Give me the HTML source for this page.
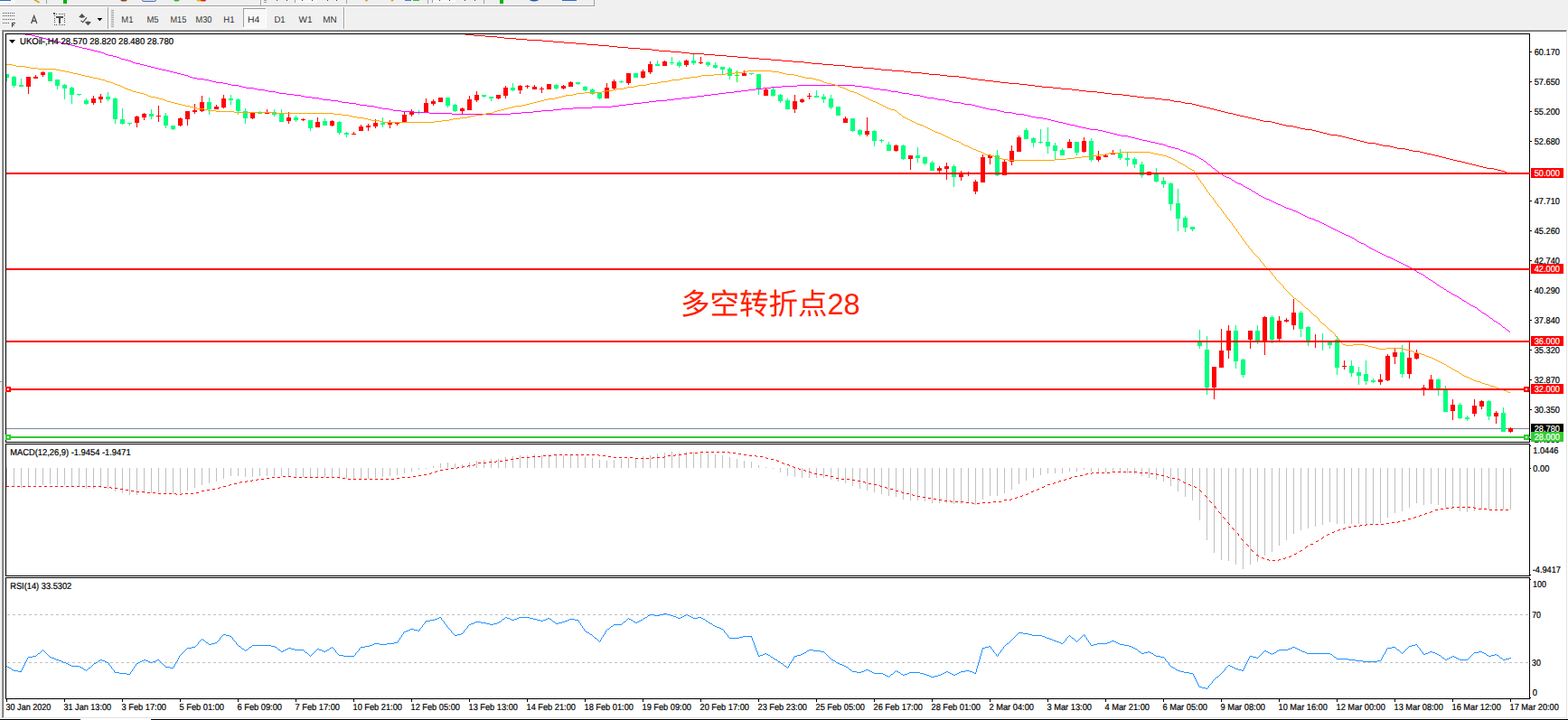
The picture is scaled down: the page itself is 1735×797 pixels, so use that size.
<!DOCTYPE html>
<html><head><meta charset="utf-8"><title>UKOil H4</title>
<style>html,body{margin:0;padding:0;background:#f0f0f0;overflow:hidden}svg{display:block}text{font-family:"Liberation Sans",sans-serif;text-rendering:geometricPrecision}</style>
</head><body>
<svg width="1735" height="797" viewBox="0 0 1735 797">
<rect x="0" y="0" width="1735" height="797" fill="#f0f0f0" />
<g shape-rendering="crispEdges">
<rect x="0" y="6" width="657" height="1" fill="#a0a0a0"/>
<rect x="0" y="7" width="658" height="1" fill="#fafafa"/>
<rect x="657" y="0" width="1" height="7" fill="#a0a0a0"/>
<rect x="0" y="0" width="17" height="4" fill="#f8f8f8"/>
<rect x="0" y="0" width="12" height="1" fill="#2a6cd0"/>
<rect x="51" y="0" width="1" height="4" fill="#a0a0a0"/>
<rect x="70" y="0" width="4" height="4" fill="#00b400"/>
<rect x="288" y="0" width="1" height="6" fill="#a0a0a0"/>
<rect x="289" y="0" width="1" height="6" fill="#fff"/>
<rect x="292" y="0" width="3" height="1" fill="#a0a0a0"/>
<rect x="292" y="2" width="3" height="1" fill="#a0a0a0"/>
<rect x="306" y="0" width="1" height="1" fill="#404040"/>
<rect x="317" y="0" width="1" height="1" fill="#404040"/>
<rect x="326" y="0" width="25" height="3" fill="#f8f8f8"/>
<rect x="326" y="0" width="1" height="3" fill="#a0a0a0"/>
<rect x="334" y="0" width="1" height="1" fill="#404040"/>
<rect x="345" y="0" width="1" height="1" fill="#404040"/>
<rect x="362" y="0" width="1" height="1" fill="#404040"/>
<rect x="372" y="0" width="1" height="1" fill="#404040"/>
<rect x="383" y="0" width="1" height="4" fill="#a0a0a0"/>
<rect x="448" y="0" width="7" height="1" fill="#3c78dc"/>
<rect x="457" y="0" width="7" height="1" fill="#3cb43c"/>
<rect x="473" y="0" width="1" height="4" fill="#a0a0a0"/>
<rect x="478" y="0" width="26" height="3" fill="#f8f8f8"/>
<rect x="478" y="0" width="1" height="3" fill="#a0a0a0"/>
<rect x="486" y="0" width="1" height="1" fill="#404040"/>
<rect x="497" y="0" width="1" height="1" fill="#404040"/>
<rect x="514" y="0" width="1" height="1" fill="#404040"/>
<rect x="525" y="0" width="1" height="1" fill="#404040"/>
<rect x="535" y="0" width="1" height="4" fill="#a0a0a0"/>
<rect x="553" y="0" width="4" height="4" fill="#00b400"/>
<rect x="622" y="0" width="16" height="1" fill="#2a6cd0"/>
</g>
<path d="M37 0 L43 3.5 L44 2 L40 0z" fill="#d4a017"/>
<ellipse cx="137" cy="0" rx="3.5" ry="1.5" fill="#8b4513"/>
<rect x="157.5" y="-2" width="15" height="3.5" rx="1.5" fill="#dfe6f5" stroke="#4a6cb4" stroke-width="1"/>
<ellipse cx="195.5" cy="0" rx="3" ry="1.5" fill="#2eb42e"/>
<ellipse cx="220.5" cy="0" rx="3" ry="1.5" fill="#e6b800"/><ellipse cx="225" cy="0" rx="3" ry="1.5" fill="#e02010"/>
<ellipse cx="405.5" cy="0" rx="1.5" ry="1.6" fill="#d4a017"/><ellipse cx="434" cy="0" rx="1.5" ry="1.6" fill="#d4a017"/>
<ellipse cx="591" cy="-1" rx="5.5" ry="2.4" fill="#1c55a8"/>
<g shape-rendering="crispEdges">
<rect x="3" y="14" width="1" height="1" fill="#505050"/>
<rect x="5" y="14" width="1" height="1" fill="#505050"/>
<rect x="7" y="14" width="1" height="1" fill="#505050"/>
<rect x="9" y="14" width="1" height="1" fill="#505050"/>
<rect x="11" y="14" width="1" height="1" fill="#505050"/>
<rect x="13" y="14" width="1" height="1" fill="#505050"/>
<rect x="15" y="14" width="1" height="1" fill="#505050"/>
<rect x="3" y="17" width="1" height="1" fill="#505050"/>
<rect x="5" y="17" width="1" height="1" fill="#505050"/>
<rect x="7" y="17" width="1" height="1" fill="#505050"/>
<rect x="9" y="17" width="1" height="1" fill="#505050"/>
<rect x="11" y="17" width="1" height="1" fill="#505050"/>
<rect x="13" y="17" width="1" height="1" fill="#505050"/>
<rect x="15" y="17" width="1" height="1" fill="#505050"/>
<rect x="3" y="21" width="1" height="1" fill="#505050"/>
<rect x="5" y="21" width="1" height="1" fill="#505050"/>
<rect x="7" y="21" width="1" height="1" fill="#505050"/>
<rect x="9" y="21" width="1" height="1" fill="#505050"/>
<rect x="11" y="21" width="1" height="1" fill="#505050"/>
<rect x="13" y="21" width="1" height="1" fill="#505050"/>
<rect x="15" y="21" width="1" height="1" fill="#505050"/>
<rect x="3" y="25" width="1" height="1" fill="#505050"/>
<rect x="5" y="25" width="1" height="1" fill="#505050"/>
<rect x="7" y="25" width="1" height="1" fill="#505050"/>
<rect x="9" y="25" width="1" height="1" fill="#505050"/>
<rect x="13" y="25" width="4" height="1" fill="#404040"/>
<rect x="13" y="25" width="1" height="5" fill="#404040"/>
<rect x="13" y="27" width="3" height="1" fill="#404040"/>
<rect x="13.5" y="25" width="0.5" height="5" fill="#404040"/>
<rect x="60" y="15" width="1" height="1" fill="#505050"/>
<rect x="60" y="27" width="1" height="1" fill="#505050"/>
<rect x="62" y="15" width="1" height="1" fill="#505050"/>
<rect x="62" y="27" width="1" height="1" fill="#505050"/>
<rect x="65" y="15" width="1" height="1" fill="#505050"/>
<rect x="65" y="27" width="1" height="1" fill="#505050"/>
<rect x="67" y="15" width="1" height="1" fill="#505050"/>
<rect x="67" y="27" width="1" height="1" fill="#505050"/>
<rect x="69" y="15" width="1" height="1" fill="#505050"/>
<rect x="69" y="27" width="1" height="1" fill="#505050"/>
<rect x="71" y="15" width="1" height="1" fill="#505050"/>
<rect x="71" y="27" width="1" height="1" fill="#505050"/>
<rect x="60" y="15" width="1" height="1" fill="#505050"/>
<rect x="71" y="15" width="1" height="1" fill="#505050"/>
<rect x="60" y="17" width="1" height="1" fill="#505050"/>
<rect x="71" y="17" width="1" height="1" fill="#505050"/>
<rect x="60" y="20" width="1" height="1" fill="#505050"/>
<rect x="71" y="20" width="1" height="1" fill="#505050"/>
<rect x="60" y="22" width="1" height="1" fill="#505050"/>
<rect x="71" y="22" width="1" height="1" fill="#505050"/>
<rect x="60" y="24" width="1" height="1" fill="#505050"/>
<rect x="71" y="24" width="1" height="1" fill="#505050"/>
<rect x="60" y="27" width="1" height="1" fill="#505050"/>
<rect x="71" y="27" width="1" height="1" fill="#505050"/>
<rect x="59" y="14" width="2" height="2" fill="#505050"/>
<rect x="62" y="18" width="8" height="2" fill="#505050"/>
<rect x="65" y="18" width="2" height="8" fill="#505050"/>
<rect x="119" y="8" width="1" height="25" fill="#a0a0a0"/>
<rect x="120" y="8" width="1" height="25" fill="#fff"/>
<rect x="123" y="11" width="3" height="1" fill="#a0a0a0"/>
<rect x="123" y="13" width="3" height="1" fill="#a0a0a0"/>
<rect x="123" y="15" width="3" height="1" fill="#a0a0a0"/>
<rect x="123" y="17" width="3" height="1" fill="#a0a0a0"/>
<rect x="123" y="19" width="3" height="1" fill="#a0a0a0"/>
<rect x="123" y="21" width="3" height="1" fill="#a0a0a0"/>
<rect x="123" y="23" width="3" height="1" fill="#a0a0a0"/>
<rect x="123" y="25" width="3" height="1" fill="#a0a0a0"/>
<rect x="123" y="27" width="3" height="1" fill="#a0a0a0"/>
<rect x="123" y="29" width="3" height="1" fill="#a0a0a0"/>
<rect x="380" y="8" width="1" height="25" fill="#a0a0a0"/>
<rect x="381" y="8" width="1" height="25" fill="#fff"/>
<rect x="269" y="9" width="26" height="22" fill="#f8f8f8"/>
<rect x="269" y="9" width="26" height="1" fill="#a0a0a0"/>
<rect x="269" y="9" width="1" height="22" fill="#a0a0a0"/>
<rect x="294" y="9" width="1" height="22" fill="#fff"/>
<rect x="269" y="30" width="26" height="1" fill="#fff"/>
</g>
<path d="M34.6 26 L37.7 17.6 L40.8 26 M35.7 23.2 H39.7" fill="none" stroke="#505050" stroke-width="1.35" stroke-linejoin="miter"/>
<path d="M90.7 15 L94.2 18.8 L90.7 20 L87.2 18.8z" fill="#505050"/>
<path d="M97.4 28.2 L100.9 24.4 L97.4 23.4 L93.9 24.4z" fill="#505050"/>
<path d="M89.5 22.8 L91.7 24.6 L96 19.4" fill="none" stroke="#505050" stroke-width="1.2"/>
<path d="M107.5 20 h5.8 l-2.9 3.3z" fill="#000"/>
<text x="134.3" y="24.9" font-size="10" fill="#303030" textLength="13.1" lengthAdjust="spacingAndGlyphs">M1</text>
<text x="162.5" y="24.9" font-size="10" fill="#303030" textLength="13.1" lengthAdjust="spacingAndGlyphs">M5</text>
<text x="188.5" y="24.9" font-size="10" fill="#303030" textLength="17.8" lengthAdjust="spacingAndGlyphs">M15</text>
<text x="216.5" y="24.9" font-size="10" fill="#303030" textLength="17.9" lengthAdjust="spacingAndGlyphs">M30</text>
<text x="247.3" y="24.9" font-size="10" fill="#303030" textLength="12.2" lengthAdjust="spacingAndGlyphs">H1</text>
<text x="274" y="24.9" font-size="10" fill="#303030" textLength="13.2" lengthAdjust="spacingAndGlyphs">H4</text>
<text x="303.4" y="24.9" font-size="10" fill="#303030" textLength="12.1" lengthAdjust="spacingAndGlyphs">D1</text>
<text x="330.6" y="24.9" font-size="10" fill="#303030" textLength="14.9" lengthAdjust="spacingAndGlyphs">W1</text>
<text x="357.3" y="24.9" font-size="10" fill="#303030" textLength="15.4" lengthAdjust="spacingAndGlyphs">MN</text>
<g shape-rendering="crispEdges">
<rect x="0" y="32" width="1735" height="1" fill="#f8f8f8" />
<rect x="0" y="34" width="1" height="388" fill="#f6f6f6" />
<rect x="1" y="34" width="1" height="388" fill="#fff" />
<rect x="0" y="422" width="2" height="1" fill="#a0a0a0" />
<rect x="2" y="33" width="1732" height="1" fill="#a0a0a0" />
<rect x="3" y="34" width="1730" height="1" fill="#696969" />
<rect x="2" y="33" width="1" height="762" fill="#a0a0a0" />
<rect x="3" y="34" width="1" height="761" fill="#696969" />
<rect x="4" y="35" width="1729" height="759" fill="#fff" />
<rect x="1733" y="35" width="1" height="760" fill="#e3e3e3" />
<rect x="1734" y="33" width="1" height="763" fill="#fff" />
<rect x="3" y="794" width="1731" height="1" fill="#e3e3e3" />
<rect x="0" y="795" width="1735" height="1" fill="#fff" />
<rect x="0" y="796" width="89" height="1" fill="#000" />
<rect x="167" y="796" width="1568" height="1" fill="#000" />
<rect x="89" y="796" width="78" height="1" fill="#fff" />
</g>
<clipPath id="cm"><rect x="7" y="38" width="1685" height="451"/></clipPath>
<g clip-path="url(#cm)" shape-rendering="crispEdges">
<rect x="7" y="474" width="1685" height="1" fill="#778899" />
<rect x="7" y="82" width="1" height="8" fill="#00ff7f" />
<rect x="5" y="82" width="5" height="4" fill="#00ff7f" />
<rect x="15" y="84" width="1" height="13" fill="#00ff7f" />
<rect x="13" y="85" width="5" height="10" fill="#00ff7f" />
<rect x="23" y="87" width="1" height="9" fill="#00ff7f" />
<rect x="21" y="94" width="5" height="2" fill="#00ff7f" />
<rect x="31" y="85" width="1" height="19" fill="#ff0000" />
<rect x="29" y="85" width="5" height="11" fill="#ff0000" />
<rect x="39" y="83" width="1" height="4" fill="#ff0000" />
<rect x="37" y="85" width="5" height="2" fill="#ff0000" />
<rect x="47" y="79" width="1" height="6" fill="#ff0000" />
<rect x="45" y="80" width="5" height="3" fill="#ff0000" />
<rect x="55" y="80" width="1" height="10" fill="#00ff7f" />
<rect x="53" y="80" width="5" height="10" fill="#00ff7f" />
<rect x="63" y="88" width="1" height="11" fill="#00ff7f" />
<rect x="61" y="88" width="5" height="7" fill="#00ff7f" />
<rect x="71" y="93" width="1" height="17" fill="#00ff7f" />
<rect x="69" y="94" width="5" height="4" fill="#00ff7f" />
<rect x="79" y="96" width="1" height="19" fill="#00ff7f" />
<rect x="77" y="97" width="5" height="8" fill="#00ff7f" />
<rect x="87" y="104" width="1" height="2" fill="#00ff7f" />
<rect x="85" y="104" width="5" height="1" fill="#00ff7f" />
<rect x="95" y="109" width="1" height="7" fill="#00ff7f" />
<rect x="93" y="111" width="5" height="4" fill="#00ff7f" />
<rect x="103" y="106" width="1" height="10" fill="#ff0000" />
<rect x="101" y="109" width="5" height="5" fill="#ff0000" />
<rect x="111" y="104" width="1" height="10" fill="#ff0000" />
<rect x="109" y="107" width="5" height="3" fill="#ff0000" />
<rect x="119" y="102" width="1" height="10" fill="#00ff7f" />
<rect x="117" y="107" width="5" height="3" fill="#00ff7f" />
<rect x="127" y="108" width="1" height="29" fill="#00ff7f" />
<rect x="125" y="109" width="5" height="23" fill="#00ff7f" />
<rect x="135" y="120" width="1" height="18" fill="#00ff7f" />
<rect x="133" y="132" width="5" height="5" fill="#00ff7f" />
<rect x="143" y="136" width="1" height="3" fill="#00ff7f" />
<rect x="141" y="136" width="5" height="1" fill="#00ff7f" />
<rect x="151" y="128" width="1" height="13" fill="#ff0000" />
<rect x="149" y="129" width="5" height="7" fill="#ff0000" />
<rect x="159" y="125" width="1" height="8" fill="#ff0000" />
<rect x="157" y="126" width="5" height="4" fill="#ff0000" />
<rect x="167" y="121" width="1" height="11" fill="#00ff7f" />
<rect x="165" y="126" width="5" height="3" fill="#00ff7f" />
<rect x="175" y="117" width="1" height="18" fill="#ff0000" />
<rect x="173" y="128" width="5" height="1" fill="#ff0000" />
<rect x="183" y="125" width="1" height="17" fill="#00ff7f" />
<rect x="181" y="128" width="5" height="11" fill="#00ff7f" />
<rect x="191" y="139" width="1" height="5" fill="#00ff7f" />
<rect x="189" y="139" width="5" height="4" fill="#00ff7f" />
<rect x="199" y="130" width="1" height="10" fill="#ff0000" />
<rect x="197" y="131" width="5" height="8" fill="#ff0000" />
<rect x="207" y="123" width="1" height="16" fill="#ff0000" />
<rect x="205" y="123" width="5" height="9" fill="#ff0000" />
<rect x="215" y="115" width="1" height="11" fill="#ff0000" />
<rect x="213" y="122" width="5" height="2" fill="#ff0000" />
<rect x="223" y="106" width="1" height="18" fill="#ff0000" />
<rect x="221" y="113" width="5" height="10" fill="#ff0000" />
<rect x="231" y="108" width="1" height="19" fill="#00ff7f" />
<rect x="229" y="113" width="5" height="8" fill="#00ff7f" />
<rect x="239" y="116" width="1" height="5" fill="#ff0000" />
<rect x="237" y="118" width="5" height="3" fill="#ff0000" />
<rect x="247" y="105" width="1" height="15" fill="#ff0000" />
<rect x="245" y="109" width="5" height="10" fill="#ff0000" />
<rect x="255" y="105" width="1" height="11" fill="#00ff7f" />
<rect x="253" y="109" width="5" height="2" fill="#00ff7f" />
<rect x="263" y="109" width="1" height="18" fill="#00ff7f" />
<rect x="261" y="110" width="5" height="13" fill="#00ff7f" />
<rect x="271" y="120" width="1" height="17" fill="#00ff7f" />
<rect x="269" y="123" width="5" height="8" fill="#00ff7f" />
<rect x="279" y="124" width="1" height="8" fill="#ff0000" />
<rect x="277" y="124" width="5" height="7" fill="#ff0000" />
<rect x="287" y="123" width="1" height="3" fill="#00ff7f" />
<rect x="285" y="125" width="5" height="1" fill="#00ff7f" />
<rect x="295" y="121" width="1" height="5" fill="#ff0000" />
<rect x="293" y="124" width="5" height="2" fill="#ff0000" />
<rect x="303" y="121" width="1" height="8" fill="#00ff7f" />
<rect x="301" y="124" width="5" height="3" fill="#00ff7f" />
<rect x="311" y="121" width="1" height="14" fill="#00ff7f" />
<rect x="309" y="126" width="5" height="9" fill="#00ff7f" />
<rect x="319" y="124" width="1" height="13" fill="#ff0000" />
<rect x="317" y="130" width="5" height="4" fill="#ff0000" />
<rect x="327" y="128" width="1" height="7" fill="#00ff7f" />
<rect x="325" y="130" width="5" height="3" fill="#00ff7f" />
<rect x="335" y="131" width="1" height="3" fill="#ff0000" />
<rect x="333" y="132" width="5" height="1" fill="#ff0000" />
<rect x="343" y="133" width="1" height="12" fill="#00ff7f" />
<rect x="341" y="133" width="5" height="9" fill="#00ff7f" />
<rect x="351" y="130" width="1" height="11" fill="#ff0000" />
<rect x="349" y="135" width="5" height="6" fill="#ff0000" />
<rect x="359" y="131" width="1" height="8" fill="#00ff7f" />
<rect x="357" y="134" width="5" height="5" fill="#00ff7f" />
<rect x="367" y="133" width="1" height="7" fill="#ff0000" />
<rect x="365" y="134" width="5" height="5" fill="#ff0000" />
<rect x="375" y="134" width="1" height="15" fill="#00ff7f" />
<rect x="373" y="135" width="5" height="12" fill="#00ff7f" />
<rect x="383" y="146" width="1" height="6" fill="#00ff7f" />
<rect x="381" y="147" width="5" height="2" fill="#00ff7f" />
<rect x="391" y="146" width="1" height="3" fill="#ff0000" />
<rect x="389" y="148" width="5" height="1" fill="#ff0000" />
<rect x="399" y="138" width="1" height="7" fill="#ff0000" />
<rect x="397" y="140" width="5" height="5" fill="#ff0000" />
<rect x="407" y="137" width="1" height="8" fill="#ff0000" />
<rect x="405" y="139" width="5" height="2" fill="#ff0000" />
<rect x="415" y="132" width="1" height="10" fill="#ff0000" />
<rect x="413" y="136" width="5" height="4" fill="#ff0000" />
<rect x="423" y="130" width="1" height="11" fill="#00ff7f" />
<rect x="421" y="136" width="5" height="2" fill="#00ff7f" />
<rect x="431" y="133" width="1" height="9" fill="#ff0000" />
<rect x="429" y="136" width="5" height="2" fill="#ff0000" />
<rect x="439" y="136" width="1" height="3" fill="#ff0000" />
<rect x="437" y="136" width="5" height="1" fill="#ff0000" />
<rect x="447" y="124" width="1" height="11" fill="#ff0000" />
<rect x="445" y="127" width="5" height="8" fill="#ff0000" />
<rect x="455" y="121" width="1" height="8" fill="#ff0000" />
<rect x="453" y="123" width="5" height="4" fill="#ff0000" />
<rect x="463" y="122" width="1" height="5" fill="#00ff7f" />
<rect x="461" y="124" width="5" height="1" fill="#00ff7f" />
<rect x="471" y="109" width="1" height="15" fill="#ff0000" />
<rect x="469" y="114" width="5" height="10" fill="#ff0000" />
<rect x="479" y="110" width="1" height="7" fill="#ff0000" />
<rect x="477" y="112" width="5" height="3" fill="#ff0000" />
<rect x="487" y="108" width="1" height="5" fill="#ff0000" />
<rect x="485" y="108" width="5" height="5" fill="#ff0000" />
<rect x="495" y="108" width="1" height="11" fill="#00ff7f" />
<rect x="493" y="108" width="5" height="9" fill="#00ff7f" />
<rect x="503" y="115" width="1" height="9" fill="#00ff7f" />
<rect x="501" y="116" width="5" height="7" fill="#00ff7f" />
<rect x="511" y="119" width="1" height="7" fill="#ff0000" />
<rect x="509" y="120" width="5" height="3" fill="#ff0000" />
<rect x="519" y="106" width="1" height="16" fill="#ff0000" />
<rect x="517" y="110" width="5" height="12" fill="#ff0000" />
<rect x="527" y="101" width="1" height="12" fill="#ff0000" />
<rect x="525" y="105" width="5" height="6" fill="#ff0000" />
<rect x="535" y="105" width="1" height="3" fill="#00ff7f" />
<rect x="533" y="105" width="5" height="2" fill="#00ff7f" />
<rect x="543" y="107" width="1" height="5" fill="#00ff7f" />
<rect x="541" y="107" width="5" height="2" fill="#00ff7f" />
<rect x="551" y="105" width="1" height="5" fill="#ff0000" />
<rect x="549" y="105" width="5" height="4" fill="#ff0000" />
<rect x="559" y="95" width="1" height="14" fill="#ff0000" />
<rect x="557" y="97" width="5" height="9" fill="#ff0000" />
<rect x="567" y="92" width="1" height="9" fill="#00ff7f" />
<rect x="565" y="97" width="5" height="3" fill="#00ff7f" />
<rect x="575" y="94" width="1" height="10" fill="#ff0000" />
<rect x="573" y="95" width="5" height="5" fill="#ff0000" />
<rect x="583" y="94" width="1" height="4" fill="#ff0000" />
<rect x="581" y="95" width="5" height="1" fill="#ff0000" />
<rect x="591" y="94" width="1" height="5" fill="#ff0000" />
<rect x="589" y="96" width="5" height="3" fill="#ff0000" />
<rect x="599" y="96" width="1" height="7" fill="#ff0000" />
<rect x="597" y="98" width="5" height="1" fill="#ff0000" />
<rect x="607" y="93" width="1" height="6" fill="#ff0000" />
<rect x="605" y="93" width="5" height="6" fill="#ff0000" />
<rect x="615" y="93" width="1" height="6" fill="#00ff7f" />
<rect x="613" y="94" width="5" height="4" fill="#00ff7f" />
<rect x="623" y="94" width="1" height="5" fill="#ff0000" />
<rect x="621" y="95" width="5" height="3" fill="#ff0000" />
<rect x="631" y="90" width="1" height="6" fill="#ff0000" />
<rect x="629" y="91" width="5" height="5" fill="#ff0000" />
<rect x="639" y="91" width="1" height="3" fill="#00ff7f" />
<rect x="637" y="91" width="5" height="2" fill="#00ff7f" />
<rect x="647" y="95" width="1" height="6" fill="#00ff7f" />
<rect x="645" y="96" width="5" height="4" fill="#00ff7f" />
<rect x="655" y="98" width="1" height="7" fill="#00ff7f" />
<rect x="653" y="99" width="5" height="5" fill="#00ff7f" />
<rect x="663" y="102" width="1" height="8" fill="#00ff7f" />
<rect x="661" y="103" width="5" height="6" fill="#00ff7f" />
<rect x="671" y="92" width="1" height="17" fill="#ff0000" />
<rect x="669" y="97" width="5" height="12" fill="#ff0000" />
<rect x="679" y="88" width="1" height="11" fill="#ff0000" />
<rect x="677" y="90" width="5" height="8" fill="#ff0000" />
<rect x="687" y="89" width="1" height="3" fill="#00ff7f" />
<rect x="685" y="90" width="5" height="1" fill="#00ff7f" />
<rect x="695" y="81" width="1" height="13" fill="#ff0000" />
<rect x="693" y="81" width="5" height="11" fill="#ff0000" />
<rect x="703" y="81" width="1" height="5" fill="#00ff7f" />
<rect x="701" y="81" width="5" height="5" fill="#00ff7f" />
<rect x="711" y="77" width="1" height="10" fill="#ff0000" />
<rect x="709" y="79" width="5" height="7" fill="#ff0000" />
<rect x="719" y="68" width="1" height="14" fill="#ff0000" />
<rect x="717" y="71" width="5" height="9" fill="#ff0000" />
<rect x="727" y="67" width="1" height="6" fill="#00ff7f" />
<rect x="725" y="71" width="5" height="2" fill="#00ff7f" />
<rect x="735" y="67" width="1" height="6" fill="#ff0000" />
<rect x="733" y="68" width="5" height="5" fill="#ff0000" />
<rect x="743" y="63" width="1" height="9" fill="#00ff7f" />
<rect x="741" y="69" width="5" height="1" fill="#00ff7f" />
<rect x="751" y="67" width="1" height="8" fill="#00ff7f" />
<rect x="749" y="69" width="5" height="4" fill="#00ff7f" />
<rect x="759" y="66" width="1" height="8" fill="#ff0000" />
<rect x="757" y="67" width="5" height="5" fill="#ff0000" />
<rect x="767" y="60" width="1" height="12" fill="#00ff7f" />
<rect x="765" y="67" width="5" height="3" fill="#00ff7f" />
<rect x="775" y="63" width="1" height="8" fill="#ff0000" />
<rect x="773" y="69" width="5" height="1" fill="#ff0000" />
<rect x="783" y="68" width="1" height="6" fill="#00ff7f" />
<rect x="781" y="69" width="5" height="3" fill="#00ff7f" />
<rect x="791" y="69" width="1" height="7" fill="#00ff7f" />
<rect x="789" y="72" width="5" height="3" fill="#00ff7f" />
<rect x="799" y="74" width="1" height="9" fill="#00ff7f" />
<rect x="797" y="74" width="5" height="3" fill="#00ff7f" />
<rect x="807" y="74" width="1" height="14" fill="#00ff7f" />
<rect x="805" y="76" width="5" height="8" fill="#00ff7f" />
<rect x="815" y="78" width="1" height="13" fill="#00ff00" />
<rect x="813" y="83" width="5" height="1" fill="#00ff00" />
<rect x="823" y="78" width="1" height="6" fill="#ff0000" />
<rect x="821" y="81" width="5" height="3" fill="#ff0000" />
<rect x="831" y="81" width="1" height="2" fill="#00ff7f" />
<rect x="829" y="81" width="5" height="1" fill="#00ff7f" />
<rect x="839" y="82" width="1" height="23" fill="#00ff7f" />
<rect x="837" y="82" width="5" height="17" fill="#00ff7f" />
<rect x="847" y="98" width="1" height="8" fill="#ff0000" />
<rect x="845" y="99" width="5" height="7" fill="#ff0000" />
<rect x="855" y="97" width="1" height="10" fill="#00ff7f" />
<rect x="853" y="99" width="5" height="7" fill="#00ff7f" />
<rect x="863" y="104" width="1" height="10" fill="#00ff7f" />
<rect x="861" y="105" width="5" height="7" fill="#00ff7f" />
<rect x="871" y="109" width="1" height="12" fill="#00ff7f" />
<rect x="869" y="111" width="5" height="10" fill="#00ff7f" />
<rect x="879" y="105" width="1" height="20" fill="#ff0000" />
<rect x="877" y="112" width="5" height="9" fill="#ff0000" />
<rect x="887" y="109" width="1" height="5" fill="#ff0000" />
<rect x="885" y="110" width="5" height="3" fill="#ff0000" />
<rect x="895" y="103" width="1" height="7" fill="#ff0000" />
<rect x="893" y="106" width="5" height="1" fill="#ff0000" />
<rect x="903" y="100" width="1" height="8" fill="#00ff7f" />
<rect x="901" y="106" width="5" height="2" fill="#00ff7f" />
<rect x="911" y="104" width="1" height="10" fill="#00ff7f" />
<rect x="909" y="107" width="5" height="3" fill="#00ff7f" />
<rect x="919" y="105" width="1" height="16" fill="#00ff7f" />
<rect x="917" y="109" width="5" height="10" fill="#00ff7f" />
<rect x="927" y="118" width="1" height="10" fill="#00ff7f" />
<rect x="925" y="118" width="5" height="10" fill="#00ff7f" />
<rect x="935" y="129" width="1" height="7" fill="#ff0000" />
<rect x="933" y="131" width="5" height="5" fill="#ff0000" />
<rect x="943" y="131" width="1" height="15" fill="#00ff7f" />
<rect x="941" y="131" width="5" height="14" fill="#00ff7f" />
<rect x="951" y="143" width="1" height="8" fill="#00ff7f" />
<rect x="949" y="144" width="5" height="5" fill="#00ff7f" />
<rect x="959" y="130" width="1" height="21" fill="#ff0000" />
<rect x="957" y="145" width="5" height="4" fill="#ff0000" />
<rect x="967" y="144" width="1" height="18" fill="#00ff7f" />
<rect x="965" y="145" width="5" height="11" fill="#00ff7f" />
<rect x="975" y="154" width="1" height="4" fill="#00ff7f" />
<rect x="973" y="155" width="5" height="1" fill="#00ff7f" />
<rect x="983" y="157" width="1" height="10" fill="#00ff7f" />
<rect x="981" y="160" width="5" height="7" fill="#00ff7f" />
<rect x="991" y="160" width="1" height="8" fill="#ff0000" />
<rect x="989" y="161" width="5" height="6" fill="#ff0000" />
<rect x="999" y="160" width="1" height="17" fill="#00ff7f" />
<rect x="997" y="161" width="5" height="15" fill="#00ff7f" />
<rect x="1007" y="172" width="1" height="16" fill="#ff0000" />
<rect x="1005" y="172" width="5" height="4" fill="#ff0000" />
<rect x="1015" y="163" width="1" height="17" fill="#00ff7f" />
<rect x="1013" y="172" width="5" height="3" fill="#00ff7f" />
<rect x="1023" y="173" width="1" height="10" fill="#00ff7f" />
<rect x="1021" y="174" width="5" height="7" fill="#00ff7f" />
<rect x="1031" y="178" width="1" height="11" fill="#00ff7f" />
<rect x="1029" y="180" width="5" height="9" fill="#00ff7f" />
<rect x="1039" y="184" width="1" height="7" fill="#ff0000" />
<rect x="1037" y="186" width="5" height="3" fill="#ff0000" />
<rect x="1047" y="180" width="1" height="19" fill="#ff0000" />
<rect x="1045" y="184" width="5" height="3" fill="#ff0000" />
<rect x="1055" y="182" width="1" height="25" fill="#00ff7f" />
<rect x="1053" y="184" width="5" height="12" fill="#00ff7f" />
<rect x="1063" y="189" width="1" height="11" fill="#ff0000" />
<rect x="1061" y="192" width="5" height="4" fill="#ff0000" />
<rect x="1071" y="190" width="1" height="5" fill="#ff0000" />
<rect x="1069" y="191" width="5" height="2" fill="#ff0000" />
<rect x="1079" y="199" width="1" height="16" fill="#ff0000" />
<rect x="1077" y="201" width="5" height="11" fill="#ff0000" />
<rect x="1087" y="171" width="1" height="31" fill="#ff0000" />
<rect x="1085" y="174" width="5" height="28" fill="#ff0000" />
<rect x="1095" y="171" width="1" height="11" fill="#ff0000" />
<rect x="1093" y="172" width="5" height="3" fill="#ff0000" />
<rect x="1103" y="166" width="1" height="29" fill="#00ff7f" />
<rect x="1101" y="172" width="5" height="22" fill="#00ff7f" />
<rect x="1111" y="177" width="1" height="17" fill="#ff0000" />
<rect x="1109" y="179" width="5" height="15" fill="#ff0000" />
<rect x="1119" y="161" width="1" height="22" fill="#ff0000" />
<rect x="1117" y="167" width="5" height="12" fill="#ff0000" />
<rect x="1127" y="150" width="1" height="18" fill="#ff0000" />
<rect x="1125" y="152" width="5" height="16" fill="#ff0000" />
<rect x="1135" y="142" width="1" height="12" fill="#00ff7f" />
<rect x="1133" y="144" width="5" height="10" fill="#00ff7f" />
<rect x="1143" y="152" width="1" height="11" fill="#00ff7f" />
<rect x="1141" y="153" width="5" height="5" fill="#00ff7f" />
<rect x="1151" y="143" width="1" height="16" fill="#00ff7f" />
<rect x="1149" y="157" width="5" height="1" fill="#00ff7f" />
<rect x="1159" y="141" width="1" height="29" fill="#00ff7f" />
<rect x="1157" y="157" width="5" height="5" fill="#00ff7f" />
<rect x="1167" y="158" width="1" height="18" fill="#00ff7f" />
<rect x="1165" y="161" width="5" height="6" fill="#00ff7f" />
<rect x="1175" y="164" width="1" height="8" fill="#00ff7f" />
<rect x="1173" y="166" width="5" height="6" fill="#00ff7f" />
<rect x="1183" y="154" width="1" height="10" fill="#ff0000" />
<rect x="1181" y="157" width="5" height="7" fill="#ff0000" />
<rect x="1191" y="157" width="1" height="15" fill="#00ff7f" />
<rect x="1189" y="157" width="5" height="12" fill="#00ff7f" />
<rect x="1199" y="152" width="1" height="17" fill="#ff0000" />
<rect x="1197" y="156" width="5" height="12" fill="#ff0000" />
<rect x="1207" y="153" width="1" height="26" fill="#00ff7f" />
<rect x="1205" y="156" width="5" height="21" fill="#00ff7f" />
<rect x="1215" y="167" width="1" height="12" fill="#ff0000" />
<rect x="1213" y="173" width="5" height="4" fill="#ff0000" />
<rect x="1223" y="170" width="1" height="4" fill="#ff0000" />
<rect x="1221" y="172" width="5" height="2" fill="#ff0000" />
<rect x="1231" y="166" width="1" height="5" fill="#ff0000" />
<rect x="1229" y="169" width="5" height="2" fill="#ff0000" />
<rect x="1239" y="165" width="1" height="12" fill="#00ff7f" />
<rect x="1237" y="170" width="5" height="5" fill="#00ff7f" />
<rect x="1247" y="169" width="1" height="15" fill="#00ff7f" />
<rect x="1245" y="175" width="5" height="2" fill="#00ff7f" />
<rect x="1255" y="174" width="1" height="12" fill="#00ff7f" />
<rect x="1253" y="176" width="5" height="6" fill="#00ff7f" />
<rect x="1263" y="179" width="1" height="18" fill="#00ff7f" />
<rect x="1261" y="182" width="5" height="12" fill="#00ff7f" />
<rect x="1271" y="190" width="1" height="4" fill="#ff0000" />
<rect x="1269" y="190" width="5" height="4" fill="#ff0000" />
<rect x="1279" y="186" width="1" height="16" fill="#00ff7f" />
<rect x="1277" y="192" width="5" height="9" fill="#00ff7f" />
<rect x="1287" y="196" width="1" height="12" fill="#00ff7f" />
<rect x="1285" y="200" width="5" height="4" fill="#00ff7f" />
<rect x="1295" y="202" width="1" height="31" fill="#00ff7f" />
<rect x="1293" y="203" width="5" height="23" fill="#00ff7f" />
<rect x="1303" y="209" width="1" height="47" fill="#00ff7f" />
<rect x="1301" y="225" width="5" height="17" fill="#00ff7f" />
<rect x="1311" y="239" width="1" height="18" fill="#00ff7f" />
<rect x="1309" y="241" width="5" height="11" fill="#00ff7f" />
<rect x="1319" y="251" width="1" height="5" fill="#00ff7f" />
<rect x="1317" y="251" width="5" height="3" fill="#00ff7f" />
<rect x="1327" y="365" width="1" height="21" fill="#00ff7f" />
<rect x="1325" y="379" width="5" height="4" fill="#00ff7f" />
<rect x="1335" y="372" width="1" height="65" fill="#00ff7f" />
<rect x="1333" y="387" width="5" height="42" fill="#00ff7f" />
<rect x="1343" y="406" width="1" height="36" fill="#ff0000" />
<rect x="1341" y="406" width="5" height="23" fill="#ff0000" />
<rect x="1351" y="364" width="1" height="43" fill="#ff0000" />
<rect x="1349" y="388" width="5" height="19" fill="#ff0000" />
<rect x="1359" y="360" width="1" height="37" fill="#ff0000" />
<rect x="1357" y="366" width="5" height="22" fill="#ff0000" />
<rect x="1367" y="360" width="1" height="48" fill="#00ff7f" />
<rect x="1365" y="366" width="5" height="34" fill="#00ff7f" />
<rect x="1375" y="397" width="1" height="21" fill="#00ff7f" />
<rect x="1373" y="398" width="5" height="17" fill="#00ff7f" />
<rect x="1383" y="366" width="1" height="20" fill="#ff0000" />
<rect x="1381" y="366" width="5" height="10" fill="#ff0000" />
<rect x="1391" y="360" width="1" height="21" fill="#00ff7f" />
<rect x="1389" y="366" width="5" height="12" fill="#00ff7f" />
<rect x="1399" y="350" width="1" height="43" fill="#ff0000" />
<rect x="1397" y="351" width="5" height="27" fill="#ff0000" />
<rect x="1407" y="349" width="1" height="31" fill="#00ff7f" />
<rect x="1405" y="351" width="5" height="25" fill="#00ff7f" />
<rect x="1415" y="350" width="1" height="28" fill="#ff0000" />
<rect x="1413" y="355" width="5" height="20" fill="#ff0000" />
<rect x="1423" y="352" width="1" height="5" fill="#ff0000" />
<rect x="1421" y="354" width="5" height="2" fill="#ff0000" />
<rect x="1431" y="331" width="1" height="34" fill="#ff0000" />
<rect x="1429" y="346" width="5" height="14" fill="#ff0000" />
<rect x="1439" y="344" width="1" height="29" fill="#00ff7f" />
<rect x="1437" y="346" width="5" height="18" fill="#00ff7f" />
<rect x="1447" y="361" width="1" height="22" fill="#00ff7f" />
<rect x="1445" y="362" width="5" height="16" fill="#00ff7f" />
<rect x="1455" y="370" width="1" height="15" fill="#ff0000" />
<rect x="1453" y="378" width="5" height="1" fill="#ff0000" />
<rect x="1463" y="369" width="1" height="19" fill="#00ff7f" />
<rect x="1461" y="378" width="5" height="1" fill="#00ff7f" />
<rect x="1471" y="378" width="1" height="8" fill="#00ff7f" />
<rect x="1469" y="379" width="5" height="3" fill="#00ff7f" />
<rect x="1479" y="372" width="1" height="43" fill="#00ff7f" />
<rect x="1477" y="376" width="5" height="31" fill="#00ff7f" />
<rect x="1487" y="399" width="1" height="10" fill="#ff0000" />
<rect x="1485" y="405" width="5" height="1" fill="#ff0000" />
<rect x="1495" y="399" width="1" height="18" fill="#00ff7f" />
<rect x="1493" y="405" width="5" height="8" fill="#00ff7f" />
<rect x="1503" y="406" width="1" height="20" fill="#00ff7f" />
<rect x="1501" y="412" width="5" height="4" fill="#00ff7f" />
<rect x="1511" y="399" width="1" height="27" fill="#00ff7f" />
<rect x="1509" y="414" width="5" height="8" fill="#00ff7f" />
<rect x="1519" y="419" width="1" height="5" fill="#00ff7f" />
<rect x="1517" y="421" width="5" height="2" fill="#00ff7f" />
<rect x="1527" y="414" width="1" height="12" fill="#ff0000" />
<rect x="1525" y="420" width="5" height="3" fill="#ff0000" />
<rect x="1535" y="392" width="1" height="30" fill="#ff0000" />
<rect x="1533" y="394" width="5" height="27" fill="#ff0000" />
<rect x="1543" y="386" width="1" height="17" fill="#ff0000" />
<rect x="1541" y="390" width="5" height="5" fill="#ff0000" />
<rect x="1551" y="382" width="1" height="36" fill="#00ff7f" />
<rect x="1549" y="390" width="5" height="24" fill="#00ff7f" />
<rect x="1559" y="379" width="1" height="40" fill="#ff0000" />
<rect x="1557" y="396" width="5" height="18" fill="#ff0000" />
<rect x="1567" y="387" width="1" height="11" fill="#ff0000" />
<rect x="1565" y="391" width="5" height="6" fill="#ff0000" />
<rect x="1575" y="426" width="1" height="12" fill="#ff0000" />
<rect x="1573" y="429" width="5" height="2" fill="#ff0000" />
<rect x="1583" y="415" width="1" height="16" fill="#ff0000" />
<rect x="1581" y="420" width="5" height="11" fill="#ff0000" />
<rect x="1591" y="419" width="1" height="19" fill="#00ff7f" />
<rect x="1589" y="420" width="5" height="10" fill="#00ff7f" />
<rect x="1599" y="427" width="1" height="29" fill="#00ff7f" />
<rect x="1597" y="432" width="5" height="24" fill="#00ff7f" />
<rect x="1607" y="442" width="1" height="23" fill="#ff0000" />
<rect x="1605" y="448" width="5" height="7" fill="#ff0000" />
<rect x="1615" y="446" width="1" height="18" fill="#00ff7f" />
<rect x="1613" y="448" width="5" height="15" fill="#00ff7f" />
<rect x="1623" y="460" width="1" height="6" fill="#00ff7f" />
<rect x="1621" y="462" width="5" height="2" fill="#00ff7f" />
<rect x="1631" y="442" width="1" height="19" fill="#ff0000" />
<rect x="1629" y="449" width="5" height="9" fill="#ff0000" />
<rect x="1639" y="443" width="1" height="10" fill="#ff0000" />
<rect x="1637" y="444" width="5" height="6" fill="#ff0000" />
<rect x="1647" y="443" width="1" height="22" fill="#00ff7f" />
<rect x="1645" y="444" width="5" height="17" fill="#00ff7f" />
<rect x="1655" y="455" width="1" height="14" fill="#ff0000" />
<rect x="1653" y="457" width="5" height="4" fill="#ff0000" />
<rect x="1663" y="451" width="1" height="27" fill="#00ff7f" />
<rect x="1661" y="457" width="5" height="21" fill="#00ff7f" />
<rect x="1671" y="473" width="1" height="6" fill="#ff0000" />
<rect x="1669" y="474" width="5" height="4" fill="#ff0000" />
<path d="M508 37.5h7M515 38.5h9M524 39.5h13M537 40.5h13M550 41.5h8M558 42.5h13M571 43.5h12M583 44.5h17M600 45.5h12M612 46.5h12M624 47.5h13M637 48.5h12M649 49.5h13M662 50.5h12M674 51.5h9M683 52.5h12M695 53.5h13M708 54.5h13M721 55.5h8M729 56.5h13M742 57.5h12M754 58.5h9M763 59.5h16M779 60.5h12M791 61.5h13M804 62.5h12M816 63.5h12M828 64.5h12M840 65.5h13M853 66.5h12M865 67.5h12M877 68.5h13M890 69.5h8M898 70.5h12M910 71.5h12M922 72.5h13M935 73.5h8M943 74.5h12M955 75.5h12M967 76.5h8M975 77.5h12M987 78.5h13M1000 79.5h8M1008 80.5h12M1020 81.5h8M1028 82.5h12M1040 83.5h8M1048 84.5h13M1061 85.5h8M1069 86.5h5M1074 87.5h8M1082 88.5h8M1090 89.5h9M1099 90.5h8M1107 91.5h9M1116 92.5h12M1128 93.5h9M1137 94.5h8M1145 95.5h8M1153 96.5h12M1165 97.5h9M1174 98.5h12M1186 99.5h8M1194 100.5h8M1202 101.5h12M1214 102.5h8M1222 103.5h8M1230 104.5h12M1242 105.5h8M1250 106.5h8M1258 107.5h8M1266 108.5h12M1278 109.5h8M1286 110.5h9M1295 111.5h4M1299 112.5h8M1307 113.5h4M1311 114.5h8M1319 115.5h4M1323 116.5h4M1327 117.5h4M1331 118.5h4M1335 119.5h4M1339 120.5h4M1343 121.5h4M1347 122.5h4M1351 123.5h4M1355 124.5h4M1359 125.5h5M1364 126.5h4M1368 127.5h4M1372 128.5h5M1377 129.5h4M1381 130.5h4M1385 131.5h5M1390 132.5h4M1394 133.5h4M1398 134.5h9M1407 135.5h4M1411 136.5h4M1415 137.5h4M1419 138.5h4M1423 139.5h8M1431 140.5h4M1435 141.5h4M1439 142.5h5M1444 143.5h8M1452 144.5h4M1456 145.5h4M1460 146.5h4M1464 147.5h4M1468 148.5h4M1472 149.5h8M1480 150.5h5M1485 151.5h4M1489 152.5h4M1493 153.5h4M1497 154.5h4M1501 155.5h4M1505 156.5h4M1509 157.5h4M1513 158.5h9M1522 159.5h4M1526 160.5h4M1530 161.5h8M1538 162.5h4M1542 163.5h4M1546 164.5h9M1555 165.5h4M1559 166.5h4M1563 167.5h8M1571 168.5h4M1575 169.5h4M1579 170.5h5M1584 171.5h4M1588 172.5h4M1592 173.5h4M1596 174.5h4M1600 175.5h4M1604 176.5h4M1608 177.5h4M1612 178.5h5M1617 179.5h4M1621 180.5h4M1625 181.5h4M1629 182.5h4M1633 183.5h4M1637 184.5h4M1641 185.5h4M1645 186.5h8M1653 187.5h4M1657 188.5h4M1661 189.5h4M1665 190.5h2" stroke="#ff0000" stroke-width="1" fill="none"/>
<path d="M28 38.5h7M35 39.5h4M39 40.5h4M43 41.5h4M47 42.5h4M51 43.5h4M55 44.5h4M59 45.5h4M63 46.5h4M67 47.5h4M71 48.5h4M75 49.5h4M79 50.5h4M83 51.5h4M87 52.5h4M91 53.5h5M96 54.5h4M100 55.5h4M104 56.5h4M108 57.5h4M112 58.5h3M115 59.5h2M117 60.5h3M120 61.5h5M125 62.5h4M129 63.5h3M132 64.5h2M134 65.5h4M138 66.5h4M142 67.5h3M145 68.5h2M147 69.5h3M150 70.5h5M155 71.5h4M159 72.5h4M163 73.5h4M167 74.5h4M171 75.5h4M175 76.5h4M179 77.5h5M184 78.5h4M188 79.5h4M192 80.5h4M196 81.5h4M200 82.5h4M204 83.5h4M208 84.5h2M210 85.5h3M213 86.5h5M218 87.5h8M226 88.5h5M231 89.5h4M235 90.5h4M239 91.5h8M247 92.5h5M252 93.5h4M256 94.5h8M882 94.5h64M264 95.5h4M865 95.5h17M946 95.5h8M268 96.5h4M853 96.5h12M954 96.5h8M272 97.5h9M844 97.5h9M962 97.5h4M281 98.5h4M836 98.5h8M966 98.5h8M285 99.5h8M828 99.5h8M974 99.5h8M293 100.5h4M820 100.5h8M982 100.5h4M297 101.5h8M812 101.5h8M986 101.5h8M305 102.5h4M803 102.5h9M994 102.5h4M309 103.5h8M795 103.5h8M998 103.5h8M317 104.5h8M787 104.5h8M1006 104.5h4M325 105.5h8M779 105.5h8M1010 105.5h8M333 106.5h4M771 106.5h8M1018 106.5h4M337 107.5h8M763 107.5h8M1022 107.5h4M345 108.5h8M754 108.5h9M1026 108.5h8M353 109.5h4M746 109.5h8M1034 109.5h4M357 110.5h9M738 110.5h8M1038 110.5h8M366 111.5h8M726 111.5h12M1046 111.5h4M374 112.5h4M718 112.5h8M1050 112.5h4M378 113.5h8M710 113.5h8M1054 113.5h9M386 114.5h8M701 114.5h9M1063 114.5h4M394 115.5h4M693 115.5h8M1067 115.5h8M398 116.5h8M685 116.5h8M1075 116.5h4M406 117.5h8M677 117.5h8M1079 117.5h4M414 118.5h4M655 118.5h22M1083 118.5h4M418 119.5h5M634 119.5h21M1087 119.5h4M423 120.5h8M621 120.5h13M1091 120.5h4M431 121.5h4M612 121.5h9M1095 121.5h8M435 122.5h9M599 122.5h13M1103 122.5h4M444 123.5h13M590 123.5h9M1107 123.5h4M457 124.5h18M577 124.5h13M1111 124.5h9M475 125.5h25M565 125.5h12M1120 125.5h4M500 126.5h65M1124 126.5h9M1133 127.5h4M1137 128.5h4M1141 129.5h5M1146 130.5h8M1154 131.5h5M1159 132.5h4M1163 133.5h4M1167 134.5h4M1171 135.5h5M1176 136.5h4M1180 137.5h4M1184 138.5h5M1189 139.5h4M1193 140.5h4M1197 141.5h5M1202 142.5h4M1206 143.5h9M1215 144.5h5M1220 145.5h4M1224 146.5h4M1228 147.5h4M1232 148.5h4M1236 149.5h4M1240 150.5h8M1248 151.5h4M1252 152.5h4M1256 153.5h4M1260 154.5h4M1264 155.5h5M1269 156.5h4M1273 157.5h5M1278 158.5h4M1282 159.5h5M1287 160.5h3M1290 161.5h2M1292 162.5h4M1296 163.5h4M1300 164.5h4M1304 165.5h2M1306 166.5h3M1309 167.5h3M1312 168.5h2M1314 169.5h3M1317 170.5h3M1320 171.5h2M1322 172.5h2M1324 173.5h2M1326 174.5h1M1327 175.5h2M1329 176.5h2M1331 177.5h1M1332 178.5h2M1334 179.5h1M1335 180.5h1M1336 181.5h1M1337 182.5h2M1339 183.5h1M1340 184.5h1M1341 185.5h1M1342 186.5h2M1344 187.5h1M1345 188.5h1M1346 189.5h2M1348 190.5h1M1349 191.5h1M1350 192.5h2M1352 193.5h1M1353 194.5h2M1355 195.5h2M1357 196.5h3M1360 197.5h2M1362 198.5h1M1363 199.5h2M1365 200.5h1M1366 201.5h2M1368 202.5h2M1370 203.5h3M1373 204.5h2M1375 205.5h1M1376 206.5h2M1378 207.5h2M1380 208.5h2M1382 209.5h2M1384 210.5h1M1385 211.5h2M1387 212.5h2M1389 213.5h1M1390 214.5h2M1392 215.5h1M1393 216.5h2M1395 217.5h2M1397 218.5h2M1399 219.5h2M1401 220.5h3M1404 221.5h2M1406 222.5h2M1408 223.5h2M1410 224.5h2M1412 225.5h2M1414 226.5h3M1417 227.5h2M1419 228.5h2M1421 229.5h2M1423 230.5h3M1426 231.5h3M1429 232.5h2M1431 233.5h3M1434 234.5h2M1436 235.5h2M1438 236.5h2M1440 237.5h2M1442 238.5h2M1444 239.5h2M1446 240.5h2M1448 241.5h3M1451 242.5h3M1454 243.5h2M1456 244.5h3M1459 245.5h2M1461 246.5h2M1463 247.5h2M1465 248.5h2M1467 249.5h2M1469 250.5h2M1471 251.5h2M1473 252.5h2M1475 253.5h2M1477 254.5h2M1479 255.5h2M1481 256.5h2M1483 257.5h2M1485 258.5h2M1487 259.5h2M1489 260.5h3M1492 261.5h2M1494 262.5h2M1496 263.5h2M1498 264.5h1M1499 265.5h2M1501 266.5h1M1502 267.5h2M1504 268.5h2M1506 269.5h3M1509 270.5h2M1511 271.5h1M1512 272.5h2M1514 273.5h1M1515 274.5h2M1517 275.5h2M1519 276.5h2M1521 277.5h2M1523 278.5h2M1525 279.5h2M1527 280.5h2M1529 281.5h2M1531 282.5h2M1533 283.5h2M1535 284.5h3M1538 285.5h2M1540 286.5h2M1542 287.5h2M1544 288.5h2M1546 289.5h2M1548 290.5h2M1550 291.5h2M1552 292.5h2M1554 293.5h2M1556 294.5h2M1558 295.5h2M1560 296.5h2M1562 297.5h2M1564 298.5h1M1565 299.5h2M1567 300.5h1M1568 301.5h2M1570 302.5h2M1572 303.5h2M1574 304.5h2M1576 305.5h1M1577 306.5h1M1578 307.5h2M1580 308.5h1M1581 309.5h2M1583 310.5h2M1585 311.5h1M1586 312.5h2M1588 313.5h1M1589 314.5h1M1590 315.5h2M1592 316.5h1M1593 317.5h2M1595 318.5h2M1597 319.5h1M1598 320.5h2M1600 321.5h1M1601 322.5h2M1603 323.5h2M1605 324.5h1M1606 325.5h2M1608 326.5h2M1610 327.5h2M1612 328.5h2M1614 329.5h1M1615 330.5h2M1617 331.5h1M1618 332.5h2M1620 333.5h2M1622 334.5h1M1623 335.5h2M1625 336.5h1M1626 337.5h2M1628 338.5h2M1630 339.5h2M1632 340.5h2M1634 341.5h1M1635 342.5h1M1636 343.5h2M1638 344.5h1M1639 345.5h1M1640 346.5h2M1642 347.5h2M1644 348.5h1M1645 349.5h2M1647 350.5h1M1648 351.5h1M1649 352.5h2M1651 353.5h1M1652 354.5h1M1653 355.5h2M1655 356.5h2M1657 357.5h1M1658 358.5h2M1660 359.5h1M1661 360.5h1M1662 361.5h1M1663 362.5h2M1665 363.5h1M1666 364.5h1M1667 365.5h2M1669 366.5h1M1670 367.5h1" stroke="#ff00ff" stroke-width="1" fill="none"/>
<path d="M7 71.5h7M14 72.5h4M18 73.5h10M28 74.5h5M33 75.5h9M42 76.5h20M62 77.5h5M67 78.5h5M827 78.5h27M72 79.5h5M822 79.5h5M854 79.5h8M77 80.5h4M813 80.5h9M862 80.5h4M81 81.5h5M803 81.5h10M866 81.5h4M86 82.5h4M790 82.5h13M870 82.5h9M90 83.5h4M776 83.5h14M879 83.5h4M94 84.5h5M772 84.5h4M883 84.5h4M99 85.5h4M764 85.5h8M887 85.5h4M103 86.5h5M756 86.5h8M891 86.5h8M108 87.5h4M752 87.5h4M899 87.5h4M112 88.5h4M743 88.5h9M903 88.5h4M116 89.5h2M739 89.5h4M907 89.5h3M118 90.5h4M731 90.5h8M910 90.5h2M122 91.5h3M727 91.5h4M912 91.5h3M125 92.5h2M719 92.5h8M915 92.5h5M127 93.5h3M715 93.5h4M920 93.5h4M130 94.5h3M706 94.5h9M924 94.5h3M133 95.5h2M702 95.5h4M927 95.5h2M135 96.5h2M694 96.5h8M929 96.5h3M137 97.5h2M690 97.5h4M932 97.5h3M139 98.5h3M682 98.5h8M935 98.5h2M142 99.5h3M678 99.5h4M937 99.5h2M145 100.5h2M670 100.5h8M939 100.5h2M147 101.5h4M666 101.5h4M941 101.5h4M151 102.5h4M647 102.5h19M945 102.5h3M155 103.5h4M638 103.5h9M948 103.5h2M159 104.5h3M634 104.5h4M950 104.5h2M162 105.5h2M626 105.5h8M952 105.5h2M164 106.5h3M622 106.5h4M954 106.5h2M167 107.5h5M618 107.5h4M956 107.5h2M172 108.5h4M614 108.5h4M958 108.5h2M176 109.5h4M606 109.5h8M960 109.5h2M180 110.5h3M602 110.5h4M962 110.5h2M183 111.5h2M598 111.5h4M964 111.5h2M185 112.5h4M594 112.5h4M966 112.5h3M189 113.5h4M590 113.5h4M969 113.5h2M193 114.5h4M586 114.5h4M971 114.5h2M197 115.5h4M582 115.5h4M973 115.5h2M201 116.5h4M578 116.5h4M975 116.5h2M205 117.5h5M570 117.5h8M977 117.5h2M210 118.5h4M566 118.5h4M979 118.5h2M214 119.5h4M562 119.5h4M981 119.5h2M218 120.5h8M558 120.5h4M983 120.5h3M226 121.5h4M554 121.5h4M986 121.5h4M230 122.5h9M550 122.5h4M990 122.5h2M239 123.5h20M547 123.5h3M992 123.5h1M259 124.5h44M545 124.5h2M993 124.5h1M303 125.5h66M538 125.5h7M994 125.5h1M369 126.5h9M534 126.5h4M995 126.5h2M378 127.5h8M526 127.5h8M997 127.5h1M386 128.5h4M521 128.5h5M998 128.5h1M390 129.5h5M517 129.5h4M999 129.5h2M395 130.5h8M509 130.5h8M1001 130.5h2M403 131.5h4M501 131.5h8M1003 131.5h2M407 132.5h4M497 132.5h4M1005 132.5h2M411 133.5h9M489 133.5h8M1007 133.5h2M420 134.5h4M481 134.5h8M1009 134.5h2M424 135.5h57M1011 135.5h2M1013 136.5h2M1015 137.5h3M1018 138.5h3M1021 139.5h2M1023 140.5h2M1025 141.5h2M1027 142.5h2M1029 143.5h2M1031 144.5h2M1033 145.5h2M1035 146.5h3M1038 147.5h3M1041 148.5h2M1043 149.5h2M1045 150.5h2M1047 151.5h2M1049 152.5h2M1051 153.5h2M1053 154.5h2M1055 155.5h3M1058 156.5h3M1061 157.5h2M1063 158.5h1M1064 159.5h2M1066 160.5h2M1068 161.5h3M1071 162.5h2M1073 163.5h2M1075 164.5h2M1077 165.5h3M1080 166.5h2M1082 167.5h3M1085 168.5h2M1239 168.5h34M1087 169.5h2M1227 169.5h12M1273 169.5h4M1089 170.5h2M1223 170.5h4M1277 170.5h5M1091 171.5h4M1214 171.5h9M1282 171.5h5M1095 172.5h5M1206 172.5h8M1287 172.5h4M1100 173.5h3M1197 173.5h9M1291 173.5h2M1103 174.5h2M1189 174.5h8M1293 174.5h3M1105 175.5h4M1180 175.5h9M1296 175.5h2M1109 176.5h6M1167 176.5h13M1298 176.5h2M1115 177.5h52M1300 177.5h2M1302 178.5h1M1303 179.5h2M1305 180.5h2M1307 181.5h2M1309 182.5h2M1311 183.5h1M1312 184.5h2M1314 185.5h1M1315 186.5h2M1317 187.5h2M1319 188.5h2M1321 189.5h1M1321 190.5h1M1322 191.5h1M1322 192.5h1M1323 193.5h1M1324 194.5h1M1324 195.5h1M1325 196.5h1M1326 197.5h1M1326 198.5h1M1327 199.5h1M1328 200.5h1M1328 201.5h1M1329 202.5h1M1330 203.5h1M1331 204.5h1M1331 205.5h1M1332 206.5h1M1333 207.5h1M1333 208.5h1M1334 209.5h1M1335 210.5h1M1335 211.5h1M1336 212.5h1M1337 213.5h1M1338 214.5h1M1338 215.5h1M1339 216.5h1M1340 217.5h1M1341 218.5h1M1342 219.5h1M1342 220.5h1M1343 221.5h1M1344 222.5h1M1344 223.5h1M1345 224.5h1M1346 225.5h1M1347 226.5h1M1347 227.5h1M1348 228.5h1M1349 229.5h1M1350 230.5h1M1351 231.5h1M1351 232.5h1M1352 233.5h1M1353 234.5h1M1353 235.5h1M1354 236.5h1M1355 237.5h1M1356 238.5h1M1356 239.5h1M1357 240.5h1M1358 241.5h1M1359 242.5h1M1360 243.5h1M1360 244.5h1M1361 245.5h1M1362 246.5h1M1363 247.5h1M1363 248.5h1M1364 249.5h1M1365 250.5h1M1365 251.5h1M1366 252.5h1M1367 253.5h1M1368 254.5h1M1368 255.5h1M1369 256.5h1M1370 257.5h1M1370 258.5h1M1371 259.5h1M1372 260.5h1M1373 261.5h1M1373 262.5h1M1374 263.5h1M1375 264.5h1M1375 265.5h1M1376 266.5h1M1377 267.5h1M1378 268.5h1M1378 269.5h1M1379 270.5h1M1380 271.5h1M1381 272.5h1M1381 273.5h1M1382 274.5h1M1383 275.5h1M1384 276.5h1M1385 277.5h1M1385 278.5h1M1386 279.5h1M1387 280.5h1M1388 281.5h1M1389 282.5h1M1390 283.5h1M1391 284.5h1M1392 285.5h1M1393 286.5h1M1394 287.5h1M1394 288.5h1M1395 289.5h1M1396 290.5h1M1397 291.5h1M1398 292.5h1M1398 293.5h1M1399 294.5h1M1400 295.5h1M1401 296.5h1M1402 297.5h1M1403 298.5h1M1404 299.5h1M1405 300.5h1M1406 301.5h1M1407 302.5h1M1407 303.5h1M1408 304.5h1M1409 305.5h1M1410 306.5h1M1411 307.5h1M1411 308.5h1M1412 309.5h1M1413 310.5h1M1414 311.5h1M1415 312.5h1M1416 313.5h1M1417 314.5h1M1418 315.5h1M1419 316.5h1M1420 317.5h1M1420 318.5h1M1421 319.5h1M1422 320.5h1M1423 321.5h1M1424 322.5h1M1425 323.5h1M1426 324.5h1M1427 325.5h1M1428 326.5h1M1429 327.5h1M1430 328.5h1M1431 329.5h1M1432 330.5h2M1434 331.5h1M1435 332.5h1M1436 333.5h2M1438 334.5h1M1439 335.5h1M1440 336.5h1M1441 337.5h1M1442 338.5h1M1443 339.5h1M1444 340.5h1M1445 341.5h2M1447 342.5h1M1448 343.5h1M1449 344.5h1M1450 345.5h1M1451 346.5h1M1452 347.5h1M1453 348.5h1M1454 349.5h2M1456 350.5h1M1457 351.5h1M1458 352.5h1M1459 353.5h1M1459 354.5h1M1460 355.5h1M1461 356.5h1M1462 357.5h1M1463 358.5h2M1465 359.5h1M1466 360.5h1M1467 361.5h1M1468 362.5h1M1469 363.5h1M1470 364.5h1M1471 365.5h1M1472 366.5h2M1474 367.5h1M1475 368.5h1M1476 369.5h1M1477 370.5h1M1477 371.5h1M1478 372.5h1M1479 373.5h1M1480 374.5h1M1481 375.5h1M1482 376.5h1M1482 377.5h1M1483 378.5h1M1484 379.5h1M1485 380.5h1M1486 381.5h3M1497 381.5h13M1489 382.5h8M1510 382.5h4M1514 383.5h4M1518 384.5h4M1522 385.5h4M1534 385.5h17M1526 386.5h8M1551 386.5h4M1555 387.5h5M1560 388.5h3M1563 389.5h2M1565 390.5h4M1569 391.5h4M1573 392.5h3M1576 393.5h2M1578 394.5h3M1581 395.5h3M1584 396.5h2M1586 397.5h2M1588 398.5h2M1590 399.5h2M1592 400.5h2M1594 401.5h2M1596 402.5h2M1598 403.5h2M1600 404.5h1M1601 405.5h2M1603 406.5h2M1605 407.5h1M1606 408.5h2M1608 409.5h2M1610 410.5h2M1612 411.5h2M1614 412.5h1M1615 413.5h2M1617 414.5h1M1618 415.5h2M1620 416.5h2M1622 417.5h3M1625 418.5h2M1627 419.5h2M1629 420.5h2M1631 421.5h3M1634 422.5h4M1638 423.5h2M1640 424.5h3M1643 425.5h4M1647 426.5h2M1649 427.5h4M1653 428.5h3M1656 429.5h2M1658 430.5h3M1661 431.5h3M1664 432.5h3M1667 433.5h2M1669 434.5h2" stroke="#ffa500" stroke-width="1" fill="none"/>
</g>
<g shape-rendering="crispEdges">
<rect x="6" y="37" width="1687" height="1" fill="#000" />
<rect x="6" y="489" width="1687" height="1" fill="#000" />
<rect x="6" y="37" width="1" height="453" fill="#000" />
<rect x="6" y="491" width="1687" height="1" fill="#000" />
<rect x="6" y="637" width="1687" height="1" fill="#000" />
<rect x="6" y="491" width="1" height="147" fill="#000" />
<rect x="6" y="639" width="1687" height="1" fill="#000" />
<rect x="6" y="773" width="1687" height="1" fill="#000" />
<rect x="6" y="639" width="1" height="135" fill="#000" />
<rect x="1692" y="37" width="1" height="737" fill="#000" />
<rect x="4" y="490" width="1690" height="1" fill="#fff" />
<rect x="4" y="638" width="1690" height="1" fill="#fff" />
</g>
<g shape-rendering="crispEdges">
<rect x="7" y="191" width="1686" height="2" fill="#ff0000" />
<rect x="7" y="297" width="1686" height="2" fill="#ff0000" />
<rect x="7" y="377" width="1686" height="2" fill="#ff0000" />
<rect x="7" y="430" width="1686" height="2" fill="#ff0000" />
<rect x="7" y="483" width="1686" height="2" fill="#32cd32" />
</g>
<rect x="6" y="428" width="6" height="6" fill="#ff0000" shape-rendering="crispEdges"/>
<rect x="8" y="430" width="2" height="2" fill="#fff" shape-rendering="crispEdges"/>
<rect x="1686" y="428" width="6" height="6" fill="#ff0000" shape-rendering="crispEdges"/>
<rect x="1688" y="430" width="2" height="2" fill="#fff" shape-rendering="crispEdges"/>
<rect x="6" y="481" width="6" height="6" fill="#32cd32" shape-rendering="crispEdges"/>
<rect x="8" y="483" width="2" height="2" fill="#fff" shape-rendering="crispEdges"/>
<rect x="1686" y="481" width="6" height="6" fill="#32cd32" shape-rendering="crispEdges"/>
<rect x="1688" y="483" width="2" height="2" fill="#fff" shape-rendering="crispEdges"/>
<g>
</g>
<g shape-rendering="crispEdges">
<rect x="1693" y="57" width="2" height="1" fill="#000" />
<rect x="1693" y="90" width="2" height="1" fill="#000" />
<rect x="1693" y="123" width="2" height="1" fill="#000" />
<rect x="1693" y="156" width="2" height="1" fill="#000" />
<rect x="1693" y="222" width="2" height="1" fill="#000" />
<rect x="1693" y="255" width="2" height="1" fill="#000" />
<rect x="1693" y="288" width="2" height="1" fill="#000" />
<rect x="1693" y="321" width="2" height="1" fill="#000" />
<rect x="1693" y="354" width="2" height="1" fill="#000" />
<rect x="1693" y="387" width="2" height="1" fill="#000" />
<rect x="1693" y="420" width="2" height="1" fill="#000" />
<rect x="1693" y="453" width="2" height="1" fill="#000" />
<rect x="1693" y="486" width="2" height="1" fill="#000" />
<rect x="1693" y="518" width="1" height="1" fill="#000" />
<rect x="1693" y="493" width="1" height="1" fill="#000" />
<rect x="1693" y="636" width="1" height="1" fill="#000" />
<rect x="1693" y="641" width="1" height="1" fill="#000" />
<rect x="1693" y="772" width="1" height="1" fill="#000" />
</g>
<clipPath id="ca"><rect x="1693" y="38" width="40" height="453"/></clipPath>
<g clip-path="url(#ca)">
<text x="1697.7" y="61" font-size="10" fill="#000" stroke="#000" stroke-width="0.22" text-anchor="start"  textLength="28.2" lengthAdjust="spacingAndGlyphs">60.170</text>
<text x="1697.7" y="94" font-size="10" fill="#000" stroke="#000" stroke-width="0.22" text-anchor="start"  textLength="28.2" lengthAdjust="spacingAndGlyphs">57.650</text>
<text x="1697.7" y="127" font-size="10" fill="#000" stroke="#000" stroke-width="0.22" text-anchor="start"  textLength="28.2" lengthAdjust="spacingAndGlyphs">55.200</text>
<text x="1697.7" y="160" font-size="10" fill="#000" stroke="#000" stroke-width="0.22" text-anchor="start"  textLength="28.2" lengthAdjust="spacingAndGlyphs">52.680</text>
<text x="1697.7" y="226" font-size="10" fill="#000" stroke="#000" stroke-width="0.22" text-anchor="start"  textLength="28.2" lengthAdjust="spacingAndGlyphs">47.710</text>
<text x="1697.7" y="259" font-size="10" fill="#000" stroke="#000" stroke-width="0.22" text-anchor="start"  textLength="28.2" lengthAdjust="spacingAndGlyphs">45.260</text>
<text x="1697.7" y="292" font-size="10" fill="#000" stroke="#000" stroke-width="0.22" text-anchor="start"  textLength="28.2" lengthAdjust="spacingAndGlyphs">42.740</text>
<text x="1697.7" y="325" font-size="10" fill="#000" stroke="#000" stroke-width="0.22" text-anchor="start"  textLength="28.2" lengthAdjust="spacingAndGlyphs">40.290</text>
<text x="1697.7" y="358" font-size="10" fill="#000" stroke="#000" stroke-width="0.22" text-anchor="start"  textLength="28.2" lengthAdjust="spacingAndGlyphs">37.840</text>
<text x="1697.7" y="391" font-size="10" fill="#000" stroke="#000" stroke-width="0.22" text-anchor="start"  textLength="28.2" lengthAdjust="spacingAndGlyphs">35.320</text>
<text x="1697.7" y="424" font-size="10" fill="#000" stroke="#000" stroke-width="0.22" text-anchor="start"  textLength="28.2" lengthAdjust="spacingAndGlyphs">32.870</text>
<text x="1697.7" y="457" font-size="10" fill="#000" stroke="#000" stroke-width="0.22" text-anchor="start"  textLength="28.2" lengthAdjust="spacingAndGlyphs">30.350</text>
<text x="1697.7" y="490" font-size="10" fill="#000" stroke="#000" stroke-width="0.22" text-anchor="start"  textLength="28.2" lengthAdjust="spacingAndGlyphs">27.900</text>
</g>
<rect x="1694" y="186" width="36" height="11" fill="#ff0000" shape-rendering="crispEdges"/>
<text x="1697.7" y="195" font-size="10" fill="#fff" stroke="#fff" stroke-width="0.22" text-anchor="start"  textLength="28.2" lengthAdjust="spacingAndGlyphs">50.000</text>
<rect x="1694" y="292" width="36" height="11" fill="#ff0000" shape-rendering="crispEdges"/>
<text x="1697.7" y="301" font-size="10" fill="#fff" stroke="#fff" stroke-width="0.22" text-anchor="start"  textLength="28.2" lengthAdjust="spacingAndGlyphs">42.000</text>
<rect x="1694" y="372" width="36" height="11" fill="#ff0000" shape-rendering="crispEdges"/>
<text x="1697.7" y="381" font-size="10" fill="#fff" stroke="#fff" stroke-width="0.22" text-anchor="start"  textLength="28.2" lengthAdjust="spacingAndGlyphs">36.000</text>
<rect x="1694" y="425" width="36" height="11" fill="#ff0000" shape-rendering="crispEdges"/>
<text x="1697.7" y="434" font-size="10" fill="#fff" stroke="#fff" stroke-width="0.22" text-anchor="start"  textLength="28.2" lengthAdjust="spacingAndGlyphs">32.000</text>
<rect x="1694" y="469" width="36" height="11" fill="#000" shape-rendering="crispEdges"/>
<text x="1697.7" y="478" font-size="10" fill="#fff" stroke="#fff" stroke-width="0.22" text-anchor="start"  textLength="28.2" lengthAdjust="spacingAndGlyphs">28.780</text>
<rect x="1694" y="478" width="36" height="11" fill="#32cd32" shape-rendering="crispEdges"/>
<text x="1697.7" y="487" font-size="10" fill="#fff" stroke="#fff" stroke-width="0.22" text-anchor="start"  textLength="28.2" lengthAdjust="spacingAndGlyphs">28.000</text>
<text x="1696.3" y="502" font-size="10" fill="#000" stroke="#000" stroke-width="0.22" text-anchor="start"  textLength="28.2" lengthAdjust="spacingAndGlyphs">1.0446</text>
<text x="1696.3" y="522" font-size="10" fill="#000" stroke="#000" stroke-width="0.22" text-anchor="start"  textLength="18" lengthAdjust="spacingAndGlyphs">0.00</text>
<text x="1695.7" y="634" font-size="10" fill="#000" stroke="#000" stroke-width="0.22" text-anchor="start"  textLength="31.3" lengthAdjust="spacingAndGlyphs">-4.9417</text>
<text x="1696" y="650" font-size="10" fill="#000" stroke="#000" stroke-width="0.22" text-anchor="start"  textLength="14.9" lengthAdjust="spacingAndGlyphs">100</text>
<text x="1695.2" y="684" font-size="10" fill="#000" stroke="#000" stroke-width="0.22" text-anchor="start"  textLength="9.8" lengthAdjust="spacingAndGlyphs">70</text>
<text x="1695" y="737" font-size="10" fill="#000" stroke="#000" stroke-width="0.22" text-anchor="start"  textLength="9.9" lengthAdjust="spacingAndGlyphs">30</text>
<text x="1695.8" y="770" font-size="10" fill="#000" stroke="#000" stroke-width="0.22" text-anchor="start"  textLength="5.2" lengthAdjust="spacingAndGlyphs">0</text>
<path d="M10 44 h7 l-3.5 4 z" fill="#000"/>
<text x="22" y="48.5" font-size="10" fill="#000" stroke="#000" stroke-width="0.22" text-anchor="start"  textLength="170" lengthAdjust="spacingAndGlyphs">UKOil-,H4  28.570 28.820 28.480 28.780</text>
<text x="11.2" y="503.6" font-size="10" fill="#000" stroke="#000" stroke-width="0.22" text-anchor="start"  textLength="133.4" lengthAdjust="spacingAndGlyphs">MACD(12,26,9) -1.9454 -1.9471</text>
<text x="11.2" y="651.7" font-size="10" fill="#000" stroke="#000" stroke-width="0.22" text-anchor="start"  textLength="68.1" lengthAdjust="spacingAndGlyphs">RSI(14) 33.5302</text>
<g shape-rendering="crispEdges">
<rect x="7" y="518" width="1" height="20" fill="#c0c0c0" />
<rect x="15" y="518" width="1" height="21" fill="#c0c0c0" />
<rect x="23" y="518" width="1" height="22" fill="#c0c0c0" />
<rect x="31" y="518" width="1" height="20" fill="#c0c0c0" />
<rect x="39" y="518" width="1" height="19" fill="#c0c0c0" />
<rect x="47" y="518" width="1" height="19" fill="#c0c0c0" />
<rect x="55" y="518" width="1" height="18" fill="#c0c0c0" />
<rect x="63" y="518" width="1" height="19" fill="#c0c0c0" />
<rect x="71" y="518" width="1" height="19" fill="#c0c0c0" />
<rect x="79" y="518" width="1" height="21" fill="#c0c0c0" />
<rect x="87" y="518" width="1" height="21" fill="#c0c0c0" />
<rect x="95" y="518" width="1" height="23" fill="#c0c0c0" />
<rect x="103" y="518" width="1" height="23" fill="#c0c0c0" />
<rect x="111" y="518" width="1" height="22" fill="#c0c0c0" />
<rect x="119" y="518" width="1" height="23" fill="#c0c0c0" />
<rect x="127" y="518" width="1" height="26" fill="#c0c0c0" />
<rect x="135" y="518" width="1" height="28" fill="#c0c0c0" />
<rect x="143" y="518" width="1" height="30" fill="#c0c0c0" />
<rect x="151" y="518" width="1" height="30" fill="#c0c0c0" />
<rect x="159" y="518" width="1" height="28" fill="#c0c0c0" />
<rect x="167" y="518" width="1" height="28" fill="#c0c0c0" />
<rect x="175" y="518" width="1" height="27" fill="#c0c0c0" />
<rect x="183" y="518" width="1" height="28" fill="#c0c0c0" />
<rect x="191" y="518" width="1" height="29" fill="#c0c0c0" />
<rect x="199" y="518" width="1" height="29" fill="#c0c0c0" />
<rect x="207" y="518" width="1" height="25" fill="#c0c0c0" />
<rect x="215" y="518" width="1" height="22" fill="#c0c0c0" />
<rect x="223" y="518" width="1" height="19" fill="#c0c0c0" />
<rect x="231" y="518" width="1" height="17" fill="#c0c0c0" />
<rect x="239" y="518" width="1" height="15" fill="#c0c0c0" />
<rect x="247" y="518" width="1" height="12" fill="#c0c0c0" />
<rect x="255" y="518" width="1" height="9" fill="#c0c0c0" />
<rect x="263" y="518" width="1" height="9" fill="#c0c0c0" />
<rect x="271" y="518" width="1" height="10" fill="#c0c0c0" />
<rect x="279" y="518" width="1" height="10" fill="#c0c0c0" />
<rect x="287" y="518" width="1" height="9" fill="#c0c0c0" />
<rect x="295" y="518" width="1" height="9" fill="#c0c0c0" />
<rect x="303" y="518" width="1" height="9" fill="#c0c0c0" />
<rect x="311" y="518" width="1" height="9" fill="#c0c0c0" />
<rect x="319" y="518" width="1" height="9" fill="#c0c0c0" />
<rect x="327" y="518" width="1" height="10" fill="#c0c0c0" />
<rect x="335" y="518" width="1" height="10" fill="#c0c0c0" />
<rect x="343" y="518" width="1" height="10" fill="#c0c0c0" />
<rect x="351" y="518" width="1" height="10" fill="#c0c0c0" />
<rect x="359" y="518" width="1" height="11" fill="#c0c0c0" />
<rect x="367" y="518" width="1" height="10" fill="#c0c0c0" />
<rect x="375" y="518" width="1" height="12" fill="#c0c0c0" />
<rect x="383" y="518" width="1" height="12" fill="#c0c0c0" />
<rect x="391" y="518" width="1" height="13" fill="#c0c0c0" />
<rect x="399" y="518" width="1" height="12" fill="#c0c0c0" />
<rect x="407" y="518" width="1" height="12" fill="#c0c0c0" />
<rect x="415" y="518" width="1" height="11" fill="#c0c0c0" />
<rect x="423" y="518" width="1" height="10" fill="#c0c0c0" />
<rect x="431" y="518" width="1" height="9" fill="#c0c0c0" />
<rect x="439" y="518" width="1" height="8" fill="#c0c0c0" />
<rect x="447" y="518" width="1" height="6" fill="#c0c0c0" />
<rect x="455" y="518" width="1" height="4" fill="#c0c0c0" />
<rect x="463" y="518" width="1" height="2" fill="#c0c0c0" />
<rect x="471" y="518" width="1" height="1" fill="#c0c0c0" />
<rect x="479" y="516" width="1" height="2" fill="#c0c0c0" />
<rect x="487" y="513" width="1" height="5" fill="#c0c0c0" />
<rect x="495" y="512" width="1" height="6" fill="#c0c0c0" />
<rect x="503" y="513" width="1" height="5" fill="#c0c0c0" />
<rect x="511" y="514" width="1" height="4" fill="#c0c0c0" />
<rect x="519" y="512" width="1" height="6" fill="#c0c0c0" />
<rect x="527" y="510" width="1" height="8" fill="#c0c0c0" />
<rect x="535" y="509" width="1" height="9" fill="#c0c0c0" />
<rect x="543" y="508" width="1" height="10" fill="#c0c0c0" />
<rect x="551" y="508" width="1" height="10" fill="#c0c0c0" />
<rect x="559" y="506" width="1" height="12" fill="#c0c0c0" />
<rect x="567" y="505" width="1" height="13" fill="#c0c0c0" />
<rect x="575" y="504" width="1" height="14" fill="#c0c0c0" />
<rect x="583" y="504" width="1" height="14" fill="#c0c0c0" />
<rect x="591" y="503" width="1" height="15" fill="#c0c0c0" />
<rect x="599" y="504" width="1" height="14" fill="#c0c0c0" />
<rect x="607" y="503" width="1" height="15" fill="#c0c0c0" />
<rect x="615" y="504" width="1" height="14" fill="#c0c0c0" />
<rect x="623" y="504" width="1" height="14" fill="#c0c0c0" />
<rect x="631" y="503" width="1" height="15" fill="#c0c0c0" />
<rect x="639" y="503" width="1" height="15" fill="#c0c0c0" />
<rect x="647" y="506" width="1" height="12" fill="#c0c0c0" />
<rect x="655" y="507" width="1" height="11" fill="#c0c0c0" />
<rect x="663" y="509" width="1" height="9" fill="#c0c0c0" />
<rect x="671" y="510" width="1" height="8" fill="#c0c0c0" />
<rect x="679" y="509" width="1" height="9" fill="#c0c0c0" />
<rect x="687" y="508" width="1" height="10" fill="#c0c0c0" />
<rect x="695" y="507" width="1" height="11" fill="#c0c0c0" />
<rect x="703" y="507" width="1" height="11" fill="#c0c0c0" />
<rect x="711" y="505" width="1" height="13" fill="#c0c0c0" />
<rect x="719" y="504" width="1" height="14" fill="#c0c0c0" />
<rect x="727" y="502" width="1" height="16" fill="#c0c0c0" />
<rect x="735" y="501" width="1" height="17" fill="#c0c0c0" />
<rect x="743" y="500" width="1" height="18" fill="#c0c0c0" />
<rect x="751" y="501" width="1" height="17" fill="#c0c0c0" />
<rect x="759" y="500" width="1" height="18" fill="#c0c0c0" />
<rect x="767" y="500" width="1" height="18" fill="#c0c0c0" />
<rect x="775" y="500" width="1" height="18" fill="#c0c0c0" />
<rect x="783" y="500" width="1" height="18" fill="#c0c0c0" />
<rect x="791" y="503" width="1" height="15" fill="#c0c0c0" />
<rect x="799" y="504" width="1" height="14" fill="#c0c0c0" />
<rect x="807" y="506" width="1" height="12" fill="#c0c0c0" />
<rect x="815" y="508" width="1" height="10" fill="#c0c0c0" />
<rect x="823" y="510" width="1" height="8" fill="#c0c0c0" />
<rect x="831" y="511" width="1" height="7" fill="#c0c0c0" />
<rect x="839" y="515" width="1" height="3" fill="#c0c0c0" />
<rect x="847" y="517" width="1" height="1" fill="#c0c0c0" />
<rect x="855" y="518" width="1" height="1" fill="#c0c0c0" />
<rect x="863" y="518" width="1" height="5" fill="#c0c0c0" />
<rect x="871" y="518" width="1" height="9" fill="#c0c0c0" />
<rect x="879" y="518" width="1" height="10" fill="#c0c0c0" />
<rect x="887" y="518" width="1" height="11" fill="#c0c0c0" />
<rect x="895" y="518" width="1" height="11" fill="#c0c0c0" />
<rect x="903" y="518" width="1" height="11" fill="#c0c0c0" />
<rect x="911" y="518" width="1" height="11" fill="#c0c0c0" />
<rect x="919" y="518" width="1" height="13" fill="#c0c0c0" />
<rect x="927" y="518" width="1" height="15" fill="#c0c0c0" />
<rect x="935" y="518" width="1" height="17" fill="#c0c0c0" />
<rect x="943" y="518" width="1" height="20" fill="#c0c0c0" />
<rect x="951" y="518" width="1" height="23" fill="#c0c0c0" />
<rect x="959" y="518" width="1" height="25" fill="#c0c0c0" />
<rect x="967" y="518" width="1" height="27" fill="#c0c0c0" />
<rect x="975" y="518" width="1" height="29" fill="#c0c0c0" />
<rect x="983" y="518" width="1" height="31" fill="#c0c0c0" />
<rect x="991" y="518" width="1" height="32" fill="#c0c0c0" />
<rect x="999" y="518" width="1" height="35" fill="#c0c0c0" />
<rect x="1007" y="518" width="1" height="36" fill="#c0c0c0" />
<rect x="1015" y="518" width="1" height="36" fill="#c0c0c0" />
<rect x="1023" y="518" width="1" height="37" fill="#c0c0c0" />
<rect x="1031" y="518" width="1" height="39" fill="#c0c0c0" />
<rect x="1039" y="518" width="1" height="39" fill="#c0c0c0" />
<rect x="1047" y="518" width="1" height="39" fill="#c0c0c0" />
<rect x="1055" y="518" width="1" height="40" fill="#c0c0c0" />
<rect x="1063" y="518" width="1" height="40" fill="#c0c0c0" />
<rect x="1071" y="518" width="1" height="39" fill="#c0c0c0" />
<rect x="1079" y="518" width="1" height="41" fill="#c0c0c0" />
<rect x="1087" y="518" width="1" height="35" fill="#c0c0c0" />
<rect x="1095" y="518" width="1" height="31" fill="#c0c0c0" />
<rect x="1103" y="518" width="1" height="31" fill="#c0c0c0" />
<rect x="1111" y="518" width="1" height="28" fill="#c0c0c0" />
<rect x="1119" y="518" width="1" height="24" fill="#c0c0c0" />
<rect x="1127" y="518" width="1" height="18" fill="#c0c0c0" />
<rect x="1135" y="518" width="1" height="14" fill="#c0c0c0" />
<rect x="1143" y="518" width="1" height="11" fill="#c0c0c0" />
<rect x="1151" y="518" width="1" height="8" fill="#c0c0c0" />
<rect x="1159" y="518" width="1" height="6" fill="#c0c0c0" />
<rect x="1167" y="518" width="1" height="6" fill="#c0c0c0" />
<rect x="1175" y="518" width="1" height="6" fill="#c0c0c0" />
<rect x="1183" y="518" width="1" height="4" fill="#c0c0c0" />
<rect x="1191" y="518" width="1" height="4" fill="#c0c0c0" />
<rect x="1199" y="518" width="1" height="2" fill="#c0c0c0" />
<rect x="1207" y="518" width="1" height="4" fill="#c0c0c0" />
<rect x="1215" y="518" width="1" height="5" fill="#c0c0c0" />
<rect x="1223" y="518" width="1" height="5" fill="#c0c0c0" />
<rect x="1231" y="518" width="1" height="5" fill="#c0c0c0" />
<rect x="1239" y="518" width="1" height="5" fill="#c0c0c0" />
<rect x="1247" y="518" width="1" height="6" fill="#c0c0c0" />
<rect x="1255" y="518" width="1" height="7" fill="#c0c0c0" />
<rect x="1263" y="518" width="1" height="9" fill="#c0c0c0" />
<rect x="1271" y="518" width="1" height="11" fill="#c0c0c0" />
<rect x="1279" y="518" width="1" height="13" fill="#c0c0c0" />
<rect x="1287" y="518" width="1" height="15" fill="#c0c0c0" />
<rect x="1295" y="518" width="1" height="20" fill="#c0c0c0" />
<rect x="1303" y="518" width="1" height="26" fill="#c0c0c0" />
<rect x="1311" y="518" width="1" height="32" fill="#c0c0c0" />
<rect x="1319" y="518" width="1" height="36" fill="#c0c0c0" />
<rect x="1327" y="518" width="1" height="58" fill="#c0c0c0" />
<rect x="1335" y="518" width="1" height="80" fill="#c0c0c0" />
<rect x="1343" y="518" width="1" height="94" fill="#c0c0c0" />
<rect x="1351" y="518" width="1" height="102" fill="#c0c0c0" />
<rect x="1359" y="518" width="1" height="103" fill="#c0c0c0" />
<rect x="1367" y="518" width="1" height="107" fill="#c0c0c0" />
<rect x="1375" y="518" width="1" height="112" fill="#c0c0c0" />
<rect x="1383" y="518" width="1" height="107" fill="#c0c0c0" />
<rect x="1391" y="518" width="1" height="104" fill="#c0c0c0" />
<rect x="1399" y="518" width="1" height="97" fill="#c0c0c0" />
<rect x="1407" y="518" width="1" height="93" fill="#c0c0c0" />
<rect x="1415" y="518" width="1" height="86" fill="#c0c0c0" />
<rect x="1423" y="518" width="1" height="80" fill="#c0c0c0" />
<rect x="1431" y="518" width="1" height="73" fill="#c0c0c0" />
<rect x="1439" y="518" width="1" height="69" fill="#c0c0c0" />
<rect x="1447" y="518" width="1" height="67" fill="#c0c0c0" />
<rect x="1455" y="518" width="1" height="65" fill="#c0c0c0" />
<rect x="1463" y="518" width="1" height="63" fill="#c0c0c0" />
<rect x="1471" y="518" width="1" height="60" fill="#c0c0c0" />
<rect x="1479" y="518" width="1" height="62" fill="#c0c0c0" />
<rect x="1487" y="518" width="1" height="62" fill="#c0c0c0" />
<rect x="1495" y="518" width="1" height="62" fill="#c0c0c0" />
<rect x="1503" y="518" width="1" height="62" fill="#c0c0c0" />
<rect x="1511" y="518" width="1" height="63" fill="#c0c0c0" />
<rect x="1519" y="518" width="1" height="62" fill="#c0c0c0" />
<rect x="1527" y="518" width="1" height="61" fill="#c0c0c0" />
<rect x="1535" y="518" width="1" height="55" fill="#c0c0c0" />
<rect x="1543" y="518" width="1" height="50" fill="#c0c0c0" />
<rect x="1551" y="518" width="1" height="48" fill="#c0c0c0" />
<rect x="1559" y="518" width="1" height="44" fill="#c0c0c0" />
<rect x="1567" y="518" width="1" height="39" fill="#c0c0c0" />
<rect x="1575" y="518" width="1" height="41" fill="#c0c0c0" />
<rect x="1583" y="518" width="1" height="40" fill="#c0c0c0" />
<rect x="1591" y="518" width="1" height="41" fill="#c0c0c0" />
<rect x="1599" y="518" width="1" height="44" fill="#c0c0c0" />
<rect x="1607" y="518" width="1" height="45" fill="#c0c0c0" />
<rect x="1615" y="518" width="1" height="48" fill="#c0c0c0" />
<rect x="1623" y="518" width="1" height="49" fill="#c0c0c0" />
<rect x="1631" y="518" width="1" height="48" fill="#c0c0c0" />
<rect x="1639" y="518" width="1" height="46" fill="#c0c0c0" />
<rect x="1647" y="518" width="1" height="46" fill="#c0c0c0" />
<rect x="1655" y="518" width="1" height="46" fill="#c0c0c0" />
<rect x="1663" y="518" width="1" height="46" fill="#c0c0c0" />
<rect x="1671" y="518" width="1" height="46" fill="#c0c0c0" />
<path d="M775 500.5h3M781 500.5h3M787 500.5h3M793 500.5h3M799 500.5h3M805 500.5h2M763 501.5h3M769 501.5h3M807 501.5h1M811 501.5h3M757 502.5h3M817 502.5h3M613 503.5h3M619 503.5h3M625 503.5h3M631 503.5h3M637 503.5h3M643 503.5h3M649 503.5h3M655 503.5h3M661 503.5h2M747 503.5h1M751 503.5h3M823 503.5h3M601 504.5h3M607 504.5h3M663 504.5h1M667 504.5h3M739 504.5h3M745 504.5h2M829 504.5h3M835 504.5h2M589 505.5h3M595 505.5h3M673 505.5h3M735 505.5h1M837 505.5h1M841 505.5h3M577 506.5h3M583 506.5h3M679 506.5h3M685 506.5h3M691 506.5h3M697 506.5h3M722 506.5h2M727 506.5h3M733 506.5h2M847 506.5h1M571 507.5h3M703 507.5h3M709 507.5h3M715 507.5h3M721 507.5h1M848 507.5h2M565 508.5h3M853 508.5h3M559 509.5h3M859 509.5h1M549 510.5h1M553 510.5h3M860 510.5h2M541 511.5h3M547 511.5h2M529 512.5h3M535 512.5h3M865 512.5h2M867 513.5h1M524 514.5h2M871 514.5h2M518 515.5h2M523 515.5h1M873 515.5h1M512 516.5h2M517 516.5h1M877 516.5h1M506 517.5h2M511 517.5h1M878 517.5h2M499 518.5h3M505 518.5h1M883 518.5h1M493 519.5h3M884 519.5h2M487 520.5h3M889 520.5h2M483 521.5h1M891 521.5h1M481 522.5h2M895 522.5h2M1231 522.5h3M1237 522.5h3M1243 522.5h3M1249 522.5h3M1255 522.5h3M477 523.5h1M897 523.5h1M1208 523.5h2M1213 523.5h3M1219 523.5h3M1225 523.5h3M1261 523.5h3M1267 523.5h3M475 524.5h2M901 524.5h3M1202 524.5h2M1207 524.5h1M1273 524.5h3M1279 524.5h1M469 525.5h3M907 525.5h3M1201 525.5h1M1280 525.5h2M463 526.5h3M913 526.5h3M1195 526.5h3M1285 526.5h3M313 527.5h3M319 527.5h3M457 527.5h3M919 527.5h3M1189 527.5h3M1291 527.5h1M301 528.5h3M307 528.5h3M325 528.5h3M331 528.5h3M337 528.5h3M343 528.5h3M349 528.5h3M355 528.5h3M361 528.5h3M367 528.5h3M373 528.5h3M445 528.5h3M451 528.5h3M1185 528.5h1M1292 528.5h2M295 529.5h3M379 529.5h3M439 529.5h3M925 529.5h3M1183 529.5h2M1297 529.5h3M285 530.5h1M289 530.5h3M385 530.5h3M391 530.5h3M397 530.5h3M403 530.5h3M409 530.5h3M415 530.5h3M421 530.5h3M427 530.5h3M433 530.5h3M931 530.5h3M937 530.5h3M1179 530.5h1M1303 530.5h2M279 531.5h1M283 531.5h2M943 531.5h3M1177 531.5h2M1305 531.5h1M273 532.5h1M277 532.5h2M949 532.5h3M1172 532.5h2M266 533.5h2M271 533.5h2M955 533.5h2M1171 533.5h1M1309 533.5h1M265 534.5h1M957 534.5h1M1166 534.5h2M1310 534.5h2M259 535.5h3M961 535.5h3M1165 535.5h1M254 536.5h2M967 536.5h3M1159 536.5h3M1315 536.5h2M253 537.5h1M973 537.5h1M1317 537.5h1M7 538.5h3M13 538.5h3M19 538.5h3M25 538.5h3M31 538.5h3M37 538.5h3M43 538.5h3M49 538.5h3M55 538.5h3M61 538.5h3M67 538.5h3M73 538.5h3M79 538.5h3M85 538.5h3M91 538.5h3M97 538.5h3M103 538.5h3M109 538.5h3M247 538.5h3M974 538.5h2M1155 538.5h1M1321 538.5h1M115 539.5h3M121 539.5h2M243 539.5h1M979 539.5h2M1153 539.5h2M1322 539.5h2M123 540.5h1M127 540.5h3M241 540.5h2M981 540.5h1M133 541.5h3M235 541.5h3M985 541.5h3M1148 541.5h2M139 542.5h3M229 542.5h3M1147 542.5h1M1327 542.5h1M145 543.5h3M223 543.5h3M991 543.5h3M1143 543.5h1M1328 543.5h1M151 544.5h3M157 544.5h3M997 544.5h1M1141 544.5h2M1329 544.5h1M163 545.5h3M169 545.5h3M217 545.5h3M998 545.5h2M175 546.5h3M181 546.5h3M187 546.5h3M193 546.5h2M201 546.5h1M205 546.5h3M211 546.5h3M1003 546.5h3M1137 546.5h1M195 547.5h1M199 547.5h2M1009 547.5h1M1135 547.5h2M1010 548.5h2M1131 548.5h1M1333 548.5h1M1015 549.5h3M1129 549.5h2M1334 549.5h1M1021 550.5h3M1125 550.5h1M1335 550.5h1M1027 551.5h3M1123 551.5h2M1033 552.5h3M1119 552.5h1M1039 553.5h3M1111 553.5h3M1117 553.5h2M1045 554.5h3M1051 554.5h1M1338 554.5h1M1052 555.5h2M1057 555.5h3M1063 555.5h3M1099 555.5h3M1105 555.5h3M1339 555.5h1M1069 556.5h3M1075 556.5h1M1087 556.5h3M1093 556.5h3M1340 556.5h1M1076 557.5h2M1081 557.5h3M1344 560.5h1M1344 561.5h1M1607 561.5h2M1612 561.5h3M1618 561.5h3M1624 561.5h3M1630 561.5h1M1345 562.5h1M1600 562.5h3M1606 562.5h1M1631 562.5h2M1594 563.5h3M1636 563.5h3M1642 563.5h3M1588 564.5h3M1648 564.5h3M1654 564.5h3M1660 564.5h3M1666 564.5h3M1348 566.5h1M1583 566.5h2M1349 567.5h1M1582 567.5h1M1350 568.5h1M1577 568.5h2M1576 569.5h1M1571 570.5h2M1570 571.5h1M1353 572.5h1M1565 572.5h2M1354 573.5h1M1564 573.5h1M1355 574.5h1M1558 574.5h3M1552 576.5h3M1547 577.5h2M1358 578.5h1M1540 578.5h3M1546 578.5h1M1359 579.5h1M1534 579.5h3M1360 580.5h1M1512 580.5h1M1516 580.5h3M1522 580.5h3M1528 580.5h3M1505 581.5h2M1510 581.5h2M1498 582.5h3M1504 582.5h1M1492 583.5h3M1363 584.5h1M1488 584.5h1M1364 585.5h1M1486 585.5h2M1365 586.5h1M1481 586.5h2M1480 587.5h1M1476 588.5h1M1474 589.5h2M1369 590.5h1M1370 591.5h1M1469 591.5h2M1370 592.5h1M1468 592.5h1M1464 594.5h1M1463 595.5h1M1373 596.5h1M1462 596.5h1M1374 597.5h1M1375 598.5h1M1458 598.5h1M1456 599.5h2M1379 602.5h1M1450 602.5h3M1380 603.5h1M1381 604.5h1M1446 604.5h1M1445 605.5h1M1444 606.5h1M1384 608.5h1M1385 609.5h1M1439 609.5h2M1386 610.5h1M1438 610.5h1M1434 612.5h1M1432 613.5h2M1390 614.5h2M1392 615.5h1M1428 615.5h1M1426 616.5h2M1396 617.5h2M1422 617.5h1M1398 618.5h1M1420 618.5h2M1402 619.5h2M1415 619.5h2M1404 620.5h1M1408 620.5h3M1414 620.5h1" stroke="#ff0000" stroke-width="1" fill="none"/>
<path d="M8 680.5 H1692 M8 733.5 H1692" stroke="#c0c0c0" stroke-width="1" stroke-dasharray="3 3" fill="none"/>
<path d="M734 679.5h4M719 680.5h5M730 680.5h4M738 680.5h4M759 680.5h2M717 681.5h2M724 681.5h6M742 681.5h3M757 681.5h2M761 681.5h2M716 682.5h1M745 682.5h3M755 682.5h2M763 682.5h2M486 683.5h2M559 683.5h2M574 683.5h12M714 683.5h2M748 683.5h2M753 683.5h2M765 683.5h2M772 683.5h4M484 684.5h2M488 684.5h1M558 684.5h1M561 684.5h3M572 684.5h2M586 684.5h4M606 684.5h2M695 684.5h1M712 684.5h2M750 684.5h3M767 684.5h5M776 684.5h2M481 685.5h3M488 685.5h1M556 685.5h2M564 685.5h2M569 685.5h3M590 685.5h4M604 685.5h2M608 685.5h2M630 685.5h6M694 685.5h1M696 685.5h2M711 685.5h1M778 685.5h2M476 686.5h5M489 686.5h1M555 686.5h1M566 686.5h3M594 686.5h4M601 686.5h3M610 686.5h1M628 686.5h2M636 686.5h4M693 686.5h1M698 686.5h2M709 686.5h2M780 686.5h1M471 687.5h5M490 687.5h1M554 687.5h1M598 687.5h3M611 687.5h1M625 687.5h3M640 687.5h1M692 687.5h1M700 687.5h1M707 687.5h2M781 687.5h2M470 688.5h1M491 688.5h1M526 688.5h6M552 688.5h2M612 688.5h2M622 688.5h3M640 688.5h1M690 688.5h2M701 688.5h2M705 688.5h2M783 688.5h1M470 689.5h1M491 689.5h1M524 689.5h2M532 689.5h6M550 689.5h2M614 689.5h1M618 689.5h4M641 689.5h1M689 689.5h1M703 689.5h2M784 689.5h2M469 690.5h1M492 690.5h1M521 690.5h3M538 690.5h4M546 690.5h4M615 690.5h3M642 690.5h1M688 690.5h1M786 690.5h2M468 691.5h1M493 691.5h1M519 691.5h2M542 691.5h4M642 691.5h1M679 691.5h9M788 691.5h1M467 692.5h1M494 692.5h1M518 692.5h1M643 692.5h1M678 692.5h1M789 692.5h2M467 693.5h1M494 693.5h1M517 693.5h1M644 693.5h1M676 693.5h2M791 693.5h2M466 694.5h1M495 694.5h1M517 694.5h1M644 694.5h1M675 694.5h1M793 694.5h3M465 695.5h1M496 695.5h1M516 695.5h1M645 695.5h1M674 695.5h1M796 695.5h2M454 696.5h4M464 696.5h1M497 696.5h1M515 696.5h1M646 696.5h1M672 696.5h2M798 696.5h2M452 697.5h2M458 697.5h4M464 697.5h1M498 697.5h1M514 697.5h1M646 697.5h1M671 697.5h1M800 697.5h1M449 698.5h3M462 698.5h2M499 698.5h1M513 698.5h1M647 698.5h1M670 698.5h1M801 698.5h1M447 699.5h2M499 699.5h1M513 699.5h1M648 699.5h2M670 699.5h1M801 699.5h1M446 700.5h1M500 700.5h1M512 700.5h1M650 700.5h2M669 700.5h1M802 700.5h1M1127 700.5h5M446 701.5h1M501 701.5h1M510 701.5h2M652 701.5h1M669 701.5h1M803 701.5h1M1126 701.5h1M1132 701.5h6M247 702.5h3M445 702.5h1M502 702.5h1M506 702.5h4M653 702.5h2M668 702.5h1M804 702.5h1M1125 702.5h1M1138 702.5h4M1199 702.5h1M246 703.5h1M250 703.5h4M444 703.5h1M503 703.5h3M655 703.5h1M667 703.5h1M805 703.5h1M1124 703.5h1M1142 703.5h11M1183 703.5h1M1198 703.5h1M1200 703.5h1M245 704.5h1M254 704.5h2M444 704.5h1M656 704.5h1M667 704.5h1M805 704.5h1M822 704.5h10M1123 704.5h1M1153 704.5h3M1182 704.5h1M1184 704.5h1M1197 704.5h1M1200 704.5h1M244 705.5h1M256 705.5h1M443 705.5h1M657 705.5h1M666 705.5h1M806 705.5h1M818 705.5h4M831 705.5h1M1122 705.5h1M1156 705.5h2M1181 705.5h1M1185 705.5h1M1196 705.5h1M1201 705.5h1M243 706.5h1M257 706.5h1M442 706.5h1M658 706.5h2M665 706.5h1M807 706.5h11M832 706.5h1M1121 706.5h1M1158 706.5h3M1180 706.5h1M1186 706.5h2M1195 706.5h1M1202 706.5h1M223 707.5h1M243 707.5h1M257 707.5h1M442 707.5h1M660 707.5h1M665 707.5h1M832 707.5h1M1120 707.5h1M1161 707.5h3M1179 707.5h1M1188 707.5h1M1194 707.5h1M1202 707.5h1M222 708.5h1M224 708.5h2M242 708.5h1M258 708.5h1M441 708.5h1M661 708.5h1M664 708.5h1M832 708.5h1M1119 708.5h1M1164 708.5h2M1179 708.5h1M1189 708.5h1M1193 708.5h1M1203 708.5h1M221 709.5h1M226 709.5h1M241 709.5h1M259 709.5h1M440 709.5h1M662 709.5h1M664 709.5h1M833 709.5h1M1118 709.5h1M1166 709.5h3M1178 709.5h1M1190 709.5h1M1192 709.5h1M1204 709.5h1M1230 709.5h3M220 710.5h1M227 710.5h1M240 710.5h1M260 710.5h1M440 710.5h1M663 710.5h1M833 710.5h1M1117 710.5h1M1169 710.5h3M1177 710.5h1M1191 710.5h1M1204 710.5h1M1228 710.5h2M1233 710.5h2M219 711.5h1M228 711.5h2M238 711.5h2M261 711.5h1M436 711.5h4M834 711.5h1M1116 711.5h1M1172 711.5h2M1176 711.5h1M1205 711.5h1M1225 711.5h3M1235 711.5h2M219 712.5h1M230 712.5h1M234 712.5h4M261 712.5h1M414 712.5h6M428 712.5h8M834 712.5h1M1114 712.5h2M1174 712.5h2M1206 712.5h1M1214 712.5h11M1237 712.5h2M218 713.5h1M231 713.5h3M262 713.5h1M412 713.5h2M420 713.5h8M834 713.5h1M1113 713.5h1M1206 713.5h1M1210 713.5h4M1239 713.5h5M1566 713.5h2M217 714.5h1M263 714.5h1M279 714.5h21M409 714.5h3M835 714.5h1M1112 714.5h1M1207 714.5h3M1244 714.5h5M1562 714.5h4M1568 714.5h1M216 715.5h1M264 715.5h2M278 715.5h1M300 715.5h4M404 715.5h5M835 715.5h1M1094 715.5h2M1111 715.5h1M1249 715.5h3M1559 715.5h3M1568 715.5h1M212 716.5h4M266 716.5h1M276 716.5h2M304 716.5h2M367 716.5h1M399 716.5h5M835 716.5h1M1090 716.5h4M1096 716.5h1M1110 716.5h1M1252 716.5h2M1430 716.5h3M1540 716.5h4M1558 716.5h1M1569 716.5h1M207 717.5h5M267 717.5h1M275 717.5h1M306 717.5h1M319 717.5h3M365 717.5h2M368 717.5h1M398 717.5h1M836 717.5h1M1087 717.5h3M1096 717.5h1M1110 717.5h1M1254 717.5h2M1428 717.5h2M1433 717.5h2M1535 717.5h5M1544 717.5h1M1557 717.5h1M1570 717.5h1M206 718.5h1M268 718.5h2M274 718.5h1M307 718.5h1M317 718.5h2M322 718.5h4M351 718.5h2M364 718.5h1M369 718.5h1M397 718.5h1M836 718.5h1M1087 718.5h1M1097 718.5h1M1109 718.5h1M1256 718.5h2M1425 718.5h3M1435 718.5h2M1534 718.5h1M1545 718.5h1M1556 718.5h1M1571 718.5h1M47 719.5h1M205 719.5h1M270 719.5h1M272 719.5h2M308 719.5h2M315 719.5h2M326 719.5h10M350 719.5h1M353 719.5h3M362 719.5h2M370 719.5h1M397 719.5h1M836 719.5h1M895 719.5h5M1086 719.5h1M1098 719.5h1M1108 719.5h1M1258 719.5h1M1415 719.5h10M1437 719.5h2M1534 719.5h1M1546 719.5h2M1555 719.5h1M1571 719.5h1M46 720.5h1M48 720.5h1M204 720.5h1M271 720.5h1M310 720.5h1M313 720.5h2M336 720.5h1M349 720.5h1M356 720.5h2M360 720.5h2M371 720.5h1M396 720.5h1M837 720.5h1M893 720.5h2M900 720.5h8M1086 720.5h1M1099 720.5h1M1107 720.5h1M1259 720.5h1M1399 720.5h2M1413 720.5h2M1439 720.5h2M1533 720.5h1M1548 720.5h1M1554 720.5h1M1572 720.5h1M45 721.5h1M49 721.5h1M203 721.5h1M311 721.5h2M337 721.5h1M348 721.5h1M358 721.5h2M371 721.5h1M395 721.5h1M837 721.5h1M892 721.5h1M908 721.5h4M1086 721.5h1M1099 721.5h1M1107 721.5h1M1260 721.5h2M1270 721.5h2M1398 721.5h1M1401 721.5h2M1412 721.5h1M1441 721.5h3M1533 721.5h1M1549 721.5h1M1553 721.5h1M1573 721.5h1M1582 721.5h3M1636 721.5h4M44 722.5h1M50 722.5h1M202 722.5h1M338 722.5h2M347 722.5h1M372 722.5h1M394 722.5h1M838 722.5h1M890 722.5h2M912 722.5h1M1086 722.5h1M1100 722.5h1M1106 722.5h1M1262 722.5h1M1266 722.5h4M1272 722.5h2M1397 722.5h1M1403 722.5h2M1410 722.5h2M1444 722.5h2M1532 722.5h1M1550 722.5h1M1552 722.5h1M1574 722.5h1M1580 722.5h2M1585 722.5h3M1631 722.5h5M1640 722.5h2M42 723.5h2M51 723.5h1M201 723.5h1M340 723.5h1M346 723.5h1M373 723.5h1M393 723.5h1M838 723.5h1M846 723.5h2M888 723.5h2M913 723.5h1M1085 723.5h1M1101 723.5h1M1105 723.5h1M1263 723.5h3M1274 723.5h2M1396 723.5h1M1405 723.5h2M1408 723.5h2M1446 723.5h26M1532 723.5h1M1551 723.5h1M1574 723.5h1M1577 723.5h3M1588 723.5h2M1630 723.5h1M1642 723.5h2M41 724.5h1M52 724.5h1M200 724.5h1M341 724.5h1M345 724.5h1M374 724.5h1M393 724.5h1M838 724.5h1M844 724.5h2M848 724.5h2M886 724.5h2M914 724.5h1M1085 724.5h1M1102 724.5h1M1104 724.5h1M1276 724.5h1M1395 724.5h1M1407 724.5h1M1472 724.5h2M1531 724.5h1M1575 724.5h2M1590 724.5h2M1629 724.5h1M1644 724.5h1M1654 724.5h2M40 725.5h1M53 725.5h1M199 725.5h1M342 725.5h1M344 725.5h1M375 725.5h5M392 725.5h1M839 725.5h1M841 725.5h3M850 725.5h2M882 725.5h4M915 725.5h1M1085 725.5h1M1102 725.5h1M1104 725.5h1M1277 725.5h2M1394 725.5h1M1474 725.5h1M1530 725.5h1M1592 725.5h2M1628 725.5h1M1645 725.5h2M1650 725.5h4M1656 725.5h2M36 726.5h4M54 726.5h1M198 726.5h1M343 726.5h1M380 726.5h12M839 726.5h2M852 726.5h1M879 726.5h3M916 726.5h1M1084 726.5h1M1103 726.5h1M1279 726.5h5M1383 726.5h3M1393 726.5h1M1475 726.5h1M1530 726.5h1M1594 726.5h1M1607 726.5h2M1627 726.5h1M1647 726.5h3M1658 726.5h1M31 727.5h5M55 727.5h2M198 727.5h1M853 727.5h2M878 727.5h1M917 727.5h1M1084 727.5h1M1284 727.5h4M1382 727.5h1M1386 727.5h4M1392 727.5h1M1476 727.5h2M1529 727.5h1M1595 727.5h1M1605 727.5h2M1609 727.5h2M1626 727.5h1M1659 727.5h1M30 728.5h1M57 728.5h3M197 728.5h1M855 728.5h1M878 728.5h1M918 728.5h1M1084 728.5h1M1288 728.5h1M1382 728.5h1M1390 728.5h2M1478 728.5h1M1529 728.5h1M1596 728.5h2M1603 728.5h2M1611 728.5h2M1625 728.5h1M1660 728.5h2M1670 728.5h2M30 729.5h1M60 729.5h2M197 729.5h1M856 729.5h2M877 729.5h1M919 729.5h1M1084 729.5h1M1289 729.5h1M1381 729.5h1M1479 729.5h13M1528 729.5h1M1598 729.5h1M1601 729.5h2M1613 729.5h2M1624 729.5h1M1662 729.5h1M1666 729.5h4M29 730.5h1M62 730.5h3M111 730.5h2M159 730.5h2M174 730.5h2M196 730.5h1M858 730.5h2M877 730.5h1M920 730.5h2M1083 730.5h1M1289 730.5h1M1381 730.5h1M1492 730.5h8M1528 730.5h1M1599 730.5h2M1615 730.5h9M1663 730.5h3M29 731.5h1M65 731.5h3M109 731.5h2M113 731.5h3M157 731.5h2M161 731.5h3M172 731.5h2M176 731.5h1M196 731.5h1M860 731.5h1M876 731.5h1M922 731.5h2M1083 731.5h1M1290 731.5h1M1380 731.5h1M1500 731.5h8M1524 731.5h4M28 732.5h1M68 732.5h2M108 732.5h1M116 732.5h2M155 732.5h2M164 732.5h2M169 732.5h3M177 732.5h1M195 732.5h1M861 732.5h2M875 732.5h1M924 732.5h1M1083 732.5h1M1291 732.5h1M1380 732.5h1M1508 732.5h16M28 733.5h1M70 733.5h3M106 733.5h2M118 733.5h2M153 733.5h2M166 733.5h3M178 733.5h1M194 733.5h1M863 733.5h1M875 733.5h1M925 733.5h2M1082 733.5h1M1292 733.5h1M1379 733.5h1M27 734.5h1M73 734.5h2M104 734.5h2M120 734.5h1M151 734.5h2M179 734.5h1M194 734.5h1M864 734.5h2M874 734.5h1M927 734.5h2M1082 734.5h1M1293 734.5h1M1379 734.5h1M27 735.5h1M75 735.5h2M103 735.5h1M120 735.5h1M150 735.5h1M180 735.5h1M193 735.5h1M866 735.5h1M873 735.5h1M929 735.5h3M1082 735.5h1M1293 735.5h1M1378 735.5h1M26 736.5h1M77 736.5h2M102 736.5h1M121 736.5h1M150 736.5h1M181 736.5h1M193 736.5h1M867 736.5h1M873 736.5h1M932 736.5h2M1082 736.5h1M1294 736.5h1M1359 736.5h2M1378 736.5h1M7 737.5h1M26 737.5h1M79 737.5h9M101 737.5h1M122 737.5h1M149 737.5h1M182 737.5h1M192 737.5h1M868 737.5h2M872 737.5h1M934 737.5h2M1081 737.5h1M1295 737.5h1M1358 737.5h1M1361 737.5h2M1377 737.5h1M8 738.5h2M25 738.5h1M88 738.5h2M100 738.5h1M123 738.5h1M148 738.5h1M183 738.5h5M192 738.5h1M870 738.5h1M872 738.5h1M936 738.5h2M1081 738.5h1M1296 738.5h2M1357 738.5h1M1363 738.5h2M1377 738.5h1M10 739.5h2M25 739.5h1M90 739.5h2M98 739.5h2M123 739.5h1M148 739.5h1M188 739.5h4M871 739.5h1M938 739.5h1M1081 739.5h1M1298 739.5h2M1356 739.5h1M1365 739.5h2M1376 739.5h1M12 740.5h1M24 740.5h1M92 740.5h1M97 740.5h1M124 740.5h1M147 740.5h1M939 740.5h1M1080 740.5h1M1300 740.5h1M1355 740.5h1M1367 740.5h3M1376 740.5h1M13 741.5h2M24 741.5h1M93 741.5h2M96 741.5h1M125 741.5h1M146 741.5h1M940 741.5h2M958 741.5h3M1080 741.5h1M1301 741.5h2M1355 741.5h1M1370 741.5h4M1375 741.5h1M15 742.5h5M23 742.5h1M95 742.5h1M126 742.5h1M146 742.5h1M942 742.5h1M956 742.5h2M961 742.5h2M991 742.5h1M1068 742.5h5M1080 742.5h1M1303 742.5h3M1354 742.5h1M1374 742.5h2M20 743.5h4M126 743.5h1M145 743.5h1M943 743.5h5M953 743.5h3M963 743.5h2M990 743.5h1M992 743.5h2M1047 743.5h2M1063 743.5h5M1073 743.5h3M1080 743.5h1M1306 743.5h4M1353 743.5h1M127 744.5h5M144 744.5h1M948 744.5h5M965 744.5h2M989 744.5h1M994 744.5h2M1006 744.5h12M1045 744.5h2M1049 744.5h2M1061 744.5h2M1076 744.5h2M1079 744.5h1M1310 744.5h6M1352 744.5h1M132 745.5h8M144 745.5h1M967 745.5h10M988 745.5h1M996 745.5h1M1004 745.5h2M1018 745.5h4M1043 745.5h2M1051 745.5h2M1059 745.5h2M1078 745.5h2M1316 745.5h4M1351 745.5h1M140 746.5h4M977 746.5h2M986 746.5h2M997 746.5h2M1001 746.5h3M1022 746.5h3M1041 746.5h2M1053 746.5h2M1057 746.5h2M1320 746.5h1M1350 746.5h1M979 747.5h2M985 747.5h1M999 747.5h2M1025 747.5h3M1038 747.5h3M1055 747.5h2M1320 747.5h1M1349 747.5h1M981 748.5h2M984 748.5h1M1028 748.5h2M1034 748.5h4M1321 748.5h1M1348 748.5h1M983 749.5h1M1030 749.5h4M1321 749.5h1M1346 749.5h2M1322 750.5h1M1345 750.5h1M1322 751.5h1M1344 751.5h1M1323 752.5h1M1343 752.5h1M1323 753.5h1M1342 753.5h1M1324 754.5h1M1341 754.5h1M1324 755.5h1M1341 755.5h1M1325 756.5h1M1340 756.5h1M1325 757.5h1M1339 757.5h1M1326 758.5h1M1338 758.5h1M1326 759.5h1M1337 759.5h1M1327 760.5h3M1337 760.5h1M1330 761.5h4M1336 761.5h1M1334 762.5h2" stroke="#1e90ff" stroke-width="1" fill="none"/>
<rect x="7" y="774" width="1" height="3" fill="#000" />
<rect x="71" y="774" width="1" height="3" fill="#000" />
<rect x="135" y="774" width="1" height="3" fill="#000" />
<rect x="199" y="774" width="1" height="3" fill="#000" />
<rect x="263" y="774" width="1" height="3" fill="#000" />
<rect x="327" y="774" width="1" height="3" fill="#000" />
<rect x="391" y="774" width="1" height="3" fill="#000" />
<rect x="455" y="774" width="1" height="3" fill="#000" />
<rect x="519" y="774" width="1" height="3" fill="#000" />
<rect x="583" y="774" width="1" height="3" fill="#000" />
<rect x="647" y="774" width="1" height="3" fill="#000" />
<rect x="711" y="774" width="1" height="3" fill="#000" />
<rect x="775" y="774" width="1" height="3" fill="#000" />
<rect x="839" y="774" width="1" height="3" fill="#000" />
<rect x="903" y="774" width="1" height="3" fill="#000" />
<rect x="967" y="774" width="1" height="3" fill="#000" />
<rect x="1031" y="774" width="1" height="3" fill="#000" />
<rect x="1095" y="774" width="1" height="3" fill="#000" />
<rect x="1159" y="774" width="1" height="3" fill="#000" />
<rect x="1223" y="774" width="1" height="3" fill="#000" />
<rect x="1287" y="774" width="1" height="3" fill="#000" />
<rect x="1351" y="774" width="1" height="3" fill="#000" />
<rect x="1415" y="774" width="1" height="3" fill="#000" />
<rect x="1479" y="774" width="1" height="3" fill="#000" />
<rect x="1543" y="774" width="1" height="3" fill="#000" />
<rect x="1607" y="774" width="1" height="3" fill="#000" />
<rect x="1671" y="774" width="1" height="3" fill="#000" />
</g>
<text x="6.5" y="786" font-size="10" fill="#000" stroke="#000" stroke-width="0.22" text-anchor="start"  textLength="49.9" lengthAdjust="spacingAndGlyphs">30 Jan 2020</text>
<text x="70.5" y="786" font-size="10" fill="#000" stroke="#000" stroke-width="0.22" text-anchor="start"  textLength="52.5" lengthAdjust="spacingAndGlyphs">31 Jan 13:00</text>
<text x="134.5" y="786" font-size="10" fill="#000" stroke="#000" stroke-width="0.22" text-anchor="start"  textLength="49.5" lengthAdjust="spacingAndGlyphs">3 Feb 17:00</text>
<text x="198.5" y="786" font-size="10" fill="#000" stroke="#000" stroke-width="0.22" text-anchor="start"  textLength="49.5" lengthAdjust="spacingAndGlyphs">5 Feb 01:00</text>
<text x="262.5" y="786" font-size="10" fill="#000" stroke="#000" stroke-width="0.22" text-anchor="start"  textLength="49.5" lengthAdjust="spacingAndGlyphs">6 Feb 09:00</text>
<text x="326.5" y="786" font-size="10" fill="#000" stroke="#000" stroke-width="0.22" text-anchor="start"  textLength="49.5" lengthAdjust="spacingAndGlyphs">7 Feb 17:00</text>
<text x="390.5" y="786" font-size="10" fill="#000" stroke="#000" stroke-width="0.22" text-anchor="start"  textLength="54.4" lengthAdjust="spacingAndGlyphs">10 Feb 21:00</text>
<text x="454.5" y="786" font-size="10" fill="#000" stroke="#000" stroke-width="0.22" text-anchor="start"  textLength="54.4" lengthAdjust="spacingAndGlyphs">12 Feb 05:00</text>
<text x="518.5" y="786" font-size="10" fill="#000" stroke="#000" stroke-width="0.22" text-anchor="start"  textLength="54.4" lengthAdjust="spacingAndGlyphs">13 Feb 13:00</text>
<text x="582.5" y="786" font-size="10" fill="#000" stroke="#000" stroke-width="0.22" text-anchor="start"  textLength="54.4" lengthAdjust="spacingAndGlyphs">14 Feb 21:00</text>
<text x="646.5" y="786" font-size="10" fill="#000" stroke="#000" stroke-width="0.22" text-anchor="start"  textLength="54.4" lengthAdjust="spacingAndGlyphs">18 Feb 01:00</text>
<text x="710.5" y="786" font-size="10" fill="#000" stroke="#000" stroke-width="0.22" text-anchor="start"  textLength="54.4" lengthAdjust="spacingAndGlyphs">19 Feb 09:00</text>
<text x="774.5" y="786" font-size="10" fill="#000" stroke="#000" stroke-width="0.22" text-anchor="start"  textLength="54.4" lengthAdjust="spacingAndGlyphs">20 Feb 17:00</text>
<text x="838.5" y="786" font-size="10" fill="#000" stroke="#000" stroke-width="0.22" text-anchor="start"  textLength="54.4" lengthAdjust="spacingAndGlyphs">23 Feb 23:00</text>
<text x="902.5" y="786" font-size="10" fill="#000" stroke="#000" stroke-width="0.22" text-anchor="start"  textLength="54.4" lengthAdjust="spacingAndGlyphs">25 Feb 05:00</text>
<text x="966.5" y="786" font-size="10" fill="#000" stroke="#000" stroke-width="0.22" text-anchor="start"  textLength="54.4" lengthAdjust="spacingAndGlyphs">26 Feb 17:00</text>
<text x="1030.5" y="786" font-size="10" fill="#000" stroke="#000" stroke-width="0.22" text-anchor="start"  textLength="54.4" lengthAdjust="spacingAndGlyphs">28 Feb 01:00</text>
<text x="1094.5" y="786" font-size="10" fill="#000" stroke="#000" stroke-width="0.22" text-anchor="start"  textLength="49.5" lengthAdjust="spacingAndGlyphs">2 Mar 04:00</text>
<text x="1158.5" y="786" font-size="10" fill="#000" stroke="#000" stroke-width="0.22" text-anchor="start"  textLength="49.5" lengthAdjust="spacingAndGlyphs">3 Mar 13:00</text>
<text x="1222.5" y="786" font-size="10" fill="#000" stroke="#000" stroke-width="0.22" text-anchor="start"  textLength="49.5" lengthAdjust="spacingAndGlyphs">4 Mar 21:00</text>
<text x="1286.5" y="786" font-size="10" fill="#000" stroke="#000" stroke-width="0.22" text-anchor="start"  textLength="49.5" lengthAdjust="spacingAndGlyphs">6 Mar 05:00</text>
<text x="1350.5" y="786" font-size="10" fill="#000" stroke="#000" stroke-width="0.22" text-anchor="start"  textLength="49.5" lengthAdjust="spacingAndGlyphs">9 Mar 08:00</text>
<text x="1414.5" y="786" font-size="10" fill="#000" stroke="#000" stroke-width="0.22" text-anchor="start"  textLength="54.4" lengthAdjust="spacingAndGlyphs">10 Mar 16:00</text>
<text x="1478.5" y="786" font-size="10" fill="#000" stroke="#000" stroke-width="0.22" text-anchor="start"  textLength="54.4" lengthAdjust="spacingAndGlyphs">12 Mar 00:00</text>
<text x="1542.5" y="786" font-size="10" fill="#000" stroke="#000" stroke-width="0.22" text-anchor="start"  textLength="54.4" lengthAdjust="spacingAndGlyphs">13 Mar 08:00</text>
<text x="1606.5" y="786" font-size="10" fill="#000" stroke="#000" stroke-width="0.22" text-anchor="start"  textLength="54.4" lengthAdjust="spacingAndGlyphs">16 Mar 12:00</text>
<text x="1670.5" y="786" font-size="10" fill="#000" stroke="#000" stroke-width="0.22" text-anchor="start"  textLength="54.4" lengthAdjust="spacingAndGlyphs">17 Mar 20:00</text>
<g fill="#ff2000">
<text x="752.9" y="348.4" font-size="32.8" fill="#ff2000" text-anchor="start" textLength="198.7" lengthAdjust="spacingAndGlyphs" style="font-family:'Liberation Sans','Noto Sans CJK SC',sans-serif">多空转折点28</text>
</g>
</svg>
</body></html>
